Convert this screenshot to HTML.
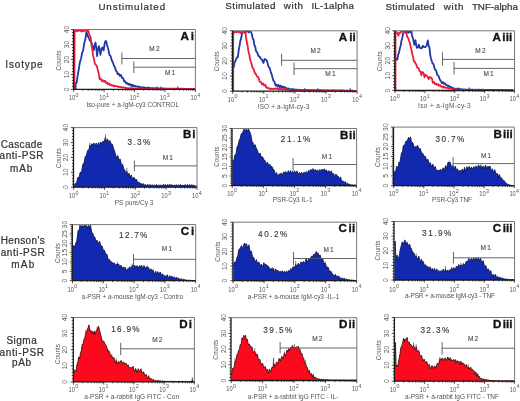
<!DOCTYPE html>
<html><head><meta charset="utf-8"><style>
html,body{margin:0;padding:0;background:#fff;}
body{width:520px;height:401px;overflow:hidden;}
svg{display:block;filter:blur(0.3px);font-family:"Liberation Sans", sans-serif;}
</style></head><body>
<svg width="520" height="401" viewBox="0 0 520 401">
<rect width="520" height="401" fill="#fff"/>
<text x="98.4" y="9.6" font-size="9.8" fill="#333" font-weight="normal" text-anchor="start" textLength="66.7" lengthAdjust="spacing" stroke="#333" stroke-width="0.22">Unstimulated</text>
<text x="225.3" y="8.9" font-size="9.8" fill="#333" font-weight="normal" text-anchor="start" textLength="50.1" lengthAdjust="spacing" stroke="#333" stroke-width="0.22">Stimulated</text>
<text x="283.7" y="8.9" font-size="9.8" fill="#333" font-weight="normal" text-anchor="start" textLength="19.3" lengthAdjust="spacing" stroke="#333" stroke-width="0.22">with</text>
<text x="311.4" y="8.9" font-size="9.8" fill="#333" font-weight="normal" text-anchor="start" textLength="42.5" lengthAdjust="spacing" stroke="#333" stroke-width="0.22">IL-1alpha</text>
<text x="385.4" y="10.3" font-size="9.8" fill="#333" font-weight="normal" text-anchor="start" textLength="49.4" lengthAdjust="spacing" stroke="#333" stroke-width="0.22">Stimulated</text>
<text x="443.7" y="10.3" font-size="9.8" fill="#333" font-weight="normal" text-anchor="start" textLength="19.7" lengthAdjust="spacing" stroke="#333" stroke-width="0.22">with</text>
<text x="471.9" y="10.3" font-size="9.8" fill="#333" font-weight="normal" text-anchor="start" textLength="46.0" lengthAdjust="spacing" stroke="#333" stroke-width="0.22">TNF-alpha</text>
<text x="5.3" y="67.9" font-size="10.0" fill="#333" font-weight="normal" text-anchor="start" textLength="37.3" lengthAdjust="spacing" stroke="#333" stroke-width="0.22">Isotype</text>
<text x="0.7" y="147.5" font-size="10.0" fill="#333" font-weight="normal" text-anchor="start" textLength="41.6" lengthAdjust="spacing" stroke="#333" stroke-width="0.22">Cascade</text>
<text x="-0.5" y="159.3" font-size="10.0" fill="#333" font-weight="normal" text-anchor="start" textLength="44.0" lengthAdjust="spacing" stroke="#333" stroke-width="0.22">anti-PSR</text>
<text x="10.1" y="171.6" font-size="10.0" fill="#333" font-weight="normal" text-anchor="start" textLength="22.2" lengthAdjust="spacing" stroke="#333" stroke-width="0.22">mAb</text>
<text x="0.7" y="244.0" font-size="10.0" fill="#333" font-weight="normal" text-anchor="start" textLength="44.1" lengthAdjust="spacing" stroke="#333" stroke-width="0.22">Henson's</text>
<text x="0.7" y="256.0" font-size="10.0" fill="#333" font-weight="normal" text-anchor="start" textLength="44.1" lengthAdjust="spacing" stroke="#333" stroke-width="0.22">anti-PSR</text>
<text x="11.3" y="268.2" font-size="10.0" fill="#333" font-weight="normal" text-anchor="start" textLength="22.9" lengthAdjust="spacing" stroke="#333" stroke-width="0.22">mAb</text>
<text x="6.4" y="343.5" font-size="10.0" fill="#333" font-weight="normal" text-anchor="start" textLength="30.3" lengthAdjust="spacing" stroke="#333" stroke-width="0.22">Sigma</text>
<text x="-0.5" y="355.6" font-size="10.0" fill="#333" font-weight="normal" text-anchor="start" textLength="44.6" lengthAdjust="spacing" stroke="#333" stroke-width="0.22">anti-PSR</text>
<text x="12.0" y="366.4" font-size="10.0" fill="#333" font-weight="normal" text-anchor="start" textLength="19.0" lengthAdjust="spacing" stroke="#333" stroke-width="0.22">pAb</text>
<path d="M70.9 89.4H73.7 M71.9 86.4H73.7 M71.9 83.4H73.7 M71.9 80.4H73.7 M71.9 77.4H73.7 M70.9 74.4H73.7 M71.9 71.4H73.7 M71.9 68.4H73.7 M71.9 65.4H73.7 M71.9 62.4H73.7 M70.9 59.5H73.7 M71.9 56.5H73.7 M71.9 53.5H73.7 M71.9 50.5H73.7 M71.9 47.5H73.7 M70.9 44.5H73.7 M71.9 41.5H73.7 M71.9 38.5H73.7 M71.9 35.5H73.7 M71.9 32.5H73.7 M70.9 29.5H73.7 M73.7 89.4V92.0 M82.9 89.4V90.8 M88.2 89.4V90.8 M92.0 89.4V90.8 M95.0 89.4V90.8 M97.4 89.4V90.8 M99.4 89.4V90.8 M101.2 89.4V90.8 M102.7 89.4V90.8 M104.1 89.4V92.0 M113.3 89.4V90.8 M118.6 89.4V90.8 M122.4 89.4V90.8 M125.4 89.4V90.8 M127.8 89.4V90.8 M129.8 89.4V90.8 M131.6 89.4V90.8 M133.2 89.4V90.8 M134.6 89.4V92.0 M143.7 89.4V90.8 M149.1 89.4V90.8 M152.9 89.4V90.8 M155.8 89.4V90.8 M158.2 89.4V90.8 M160.3 89.4V90.8 M162.0 89.4V90.8 M163.6 89.4V90.8 M165.0 89.4V92.0 M174.1 89.4V90.8 M179.5 89.4V90.8 M183.3 89.4V90.8 M186.2 89.4V90.8 M188.7 89.4V90.8 M190.7 89.4V90.8 M192.5 89.4V90.8 M194.0 89.4V90.8 M195.4 89.4V92.0" stroke="#222" stroke-width="0.8" fill="none"/>
<polyline points="75.5,89.0 75.8,83.0 76.6,82.9 77.7,75.3 78.8,69.1 79.9,62.1 81.0,58.7 82.1,53.3 83.2,50.1 84.3,43.0 85.3,39.6 86.4,31.8 87.7,36.0 88.9,38.0 90.0,40.8 91.1,41.6 92.2,45.1 93.0,46.5 93.8,50.2 94.7,45.0 95.5,42.5 96.3,47.8 97.1,56.2 97.9,49.7 98.8,46.2 99.6,48.5 100.4,54.9 101.2,50.6 102.1,47.8 102.9,47.5 103.7,50.4 104.6,43.8 105.4,41.1 106.2,41.2 107.0,45.0 108.2,49.0 109.5,55.1 110.6,55.9 111.7,60.3 112.8,62.2 113.9,65.5 115.0,67.6 116.1,70.9 116.9,71.7 117.7,74.1 118.8,73.7 119.9,76.1 121.0,75.0 122.1,78.0 123.2,78.2 124.3,81.6 125.3,81.5 126.3,83.5 127.2,83.1 128.2,84.5 129.2,83.6 130.2,85.4 131.1,84.5 132.1,86.2 133.1,84.9 134.0,86.2 135.0,85.9 136.0,86.4 137.0,86.3 138.0,86.9 139.0,86.7 140.0,87.1 141.0,87.1 142.0,87.7 143.0,87.4 144.0,87.9 145.0,87.6 146.0,88.1 147.0,87.9 148.0,88.1 149.0,87.8 150.0,88.1 151.0,88.0 152.0,88.3 153.0,88.1 154.0,88.5 155.0,88.2 156.0,88.4 157.0,88.3 158.0,88.5 159.0,88.3 160.0,88.7 161.0,88.4 162.0,88.6 163.0,88.5 164.0,88.6 165.0,88.5 166.0,88.8 167.0,88.5 168.0,88.8 169.0,88.6 170.0,88.7 171.0,88.6 172.0,88.8 173.0,88.6 174.0,88.7 175.0,88.6 176.0,88.9 177.0,88.7 178.0,88.8 179.0,88.7 180.0,88.9 181.0,88.7 182.0,88.9 183.0,88.7 184.0,88.9 185.0,88.8 186.0,88.9 187.0,88.9 188.0,89.0 189.0,88.9 190.0,89.0 191.0,88.9 192.0,89.0 193.0,89.0 194.0,89.0 195.0,89.0" fill="none" stroke="#1f38a8" stroke-width="1.8" stroke-linejoin="round"/>
<polyline points="74.3,89.4 74.6,30.1 75.6,31.2 76.5,30.1 77.5,31.3 78.5,30.1 79.4,30.6 80.4,30.1 81.3,31.5 82.3,30.1 83.3,31.3 84.2,30.2 85.2,30.9 86.2,30.1 87.1,31.3 88.1,30.1 89.3,35.0 90.6,37.0 91.4,44.1 92.2,48.5 93.0,55.2 93.8,58.0 94.7,63.2 95.5,64.7 96.3,65.1 97.2,67.4 98.0,70.8 98.8,73.7 99.6,79.1 100.7,78.5 101.8,81.2 102.9,80.1 103.9,81.8 104.9,80.7 105.8,82.8 106.8,82.4 107.8,84.2 108.8,83.3 109.8,85.1 110.8,84.5 111.8,85.7 112.8,85.2 113.9,86.4 115.0,85.7 116.0,86.3 117.1,86.2 118.2,87.0 119.3,86.6 120.3,87.3 121.4,87.0 122.4,87.5 123.4,87.3 124.5,87.8 125.5,87.7 126.6,88.1 127.6,88.2 128.6,88.4 129.7,88.2 130.7,88.4 131.7,88.2 132.8,88.4 133.8,88.4 134.8,88.5 135.9,88.4 136.9,88.6 137.9,88.5 139.0,88.7 140.0,88.5 141.0,88.7 142.0,88.5 143.0,88.8 144.0,88.6 145.0,88.8 146.0,88.6 147.0,88.8 148.0,88.6 149.0,88.8 150.0,88.7 151.0,88.8 152.0,88.7 153.0,88.8 154.0,88.6 155.0,88.8 156.0,88.7 157.0,88.8 158.0,88.8 159.0,88.9 160.0,88.8 161.0,88.9 162.0,88.8 163.0,88.9 164.0,88.8 165.0,88.9 166.0,88.8 167.0,88.9 168.0,88.8 169.0,88.9 170.0,88.8 171.0,89.0 172.0,88.8 173.0,89.0 174.0,88.8 175.0,88.9 176.0,88.8 177.0,89.0 178.0,88.9 179.0,89.0 180.0,88.9 181.0,89.0 182.0,88.9 183.0,89.0 184.0,88.9 185.0,89.0 186.0,88.9 187.0,89.0 188.0,88.9 189.0,89.1 190.0,88.9 191.0,89.1 192.0,88.9 193.0,89.0 194.0,88.9 195.0,89.1" fill="none" stroke="#ec1c3c" stroke-width="1.8" stroke-linejoin="round"/>
<path d="M73.7 29.5H195.4V89.4" stroke="#777" stroke-width="1" fill="none"/>
<path d="M73.5 29.5V89.4H195.4" stroke="#1a1a1a" stroke-width="1.3" fill="none"/>
<path d="M144 89.0V86.6M148 89.0V86.6M157 89.0V86.6M161 89.0V86.6M177.8 89.0V86.6" stroke="#1f38a8" stroke-width="1.1" fill="none"/>
<path d="M121.9 52.3V64.4M121.9 58.5H195.4" stroke="#555" stroke-width="0.9" fill="none"/>
<text x="149.3" y="51.2" font-size="6.5" fill="#555" font-weight="normal" text-anchor="start" textLength="10.2" lengthAdjust="spacing" stroke="#555" stroke-width="0.15">M2</text>
<path d="M133.8 61.4V73.0M133.8 67.2H195.4" stroke="#555" stroke-width="0.9" fill="none"/>
<text x="164.9" y="75.1" font-size="6.5" fill="#555" font-weight="normal" text-anchor="start" textLength="10.2" lengthAdjust="spacing" stroke="#555" stroke-width="0.15">M1</text>
<text x="180.41" y="39.90" font-size="11.6" font-weight="bold" fill="#111" stroke="#111" stroke-width="0.35">A</text>
<text x="190.71" y="39.90" font-size="11.6" font-weight="bold" fill="#111" stroke="#111" stroke-width="0.3" letter-spacing="0.1">i</text>
<text transform="translate(69.0 89.4) rotate(-90)" font-size="6.8" fill="#555" text-anchor="middle">0</text>
<text transform="translate(69.0 74.4) rotate(-90)" font-size="6.8" fill="#555" text-anchor="middle">10</text>
<text transform="translate(69.0 59.5) rotate(-90)" font-size="6.8" fill="#555" text-anchor="middle">20</text>
<text transform="translate(69.0 44.5) rotate(-90)" font-size="6.8" fill="#555" text-anchor="middle">30</text>
<text transform="translate(69.0 29.5) rotate(-90)" font-size="6.8" fill="#555" text-anchor="middle">40</text>
<text transform="translate(60.6 60.4) rotate(-90)" font-size="6.5" fill="#555" text-anchor="middle" textLength="20" lengthAdjust="spacingAndGlyphs">Counts</text>
<text x="68.8" y="100.3" font-size="6.4" fill="#555" textLength="6.4" lengthAdjust="spacingAndGlyphs">10</text>
<text x="75.5" y="96.5" font-size="5.4" fill="#555">0</text>
<text x="99.2" y="100.3" font-size="6.4" fill="#555" textLength="6.4" lengthAdjust="spacingAndGlyphs">10</text>
<text x="105.9" y="96.5" font-size="5.4" fill="#555">1</text>
<text x="129.7" y="100.3" font-size="6.4" fill="#555" textLength="6.4" lengthAdjust="spacingAndGlyphs">10</text>
<text x="136.4" y="96.5" font-size="5.4" fill="#555">2</text>
<text x="160.1" y="100.3" font-size="6.4" fill="#555" textLength="6.4" lengthAdjust="spacingAndGlyphs">10</text>
<text x="166.8" y="96.5" font-size="5.4" fill="#555">3</text>
<text x="190.5" y="100.3" font-size="6.4" fill="#555" textLength="6.4" lengthAdjust="spacingAndGlyphs">10</text>
<text x="197.2" y="96.5" font-size="5.4" fill="#555">4</text>
<text x="86.4" y="106.7" font-size="6.5" fill="#555" font-weight="normal" text-anchor="start" textLength="92.6" lengthAdjust="spacing">Iso-pure + a-IgM-cy3  CONTROL</text>
<path d="M229.9 91.2H232.7 M230.9 88.2H232.7 M230.9 85.2H232.7 M230.9 82.1H232.7 M230.9 79.1H232.7 M229.9 76.1H232.7 M230.9 73.1H232.7 M230.9 70.1H232.7 M230.9 67.0H232.7 M230.9 64.0H232.7 M229.9 61.0H232.7 M230.9 58.0H232.7 M230.9 55.0H232.7 M230.9 51.9H232.7 M230.9 48.9H232.7 M229.9 45.9H232.7 M230.9 42.9H232.7 M230.9 39.9H232.7 M230.9 36.8H232.7 M230.9 33.8H232.7 M229.9 30.8H232.7 M232.7 91.2V93.8 M242.1 91.2V92.6 M247.5 91.2V92.6 M251.4 91.2V92.6 M254.4 91.2V92.6 M256.9 91.2V92.6 M259.0 91.2V92.6 M260.8 91.2V92.6 M262.4 91.2V92.6 M263.8 91.2V93.8 M273.2 91.2V92.6 M278.6 91.2V92.6 M282.5 91.2V92.6 M285.5 91.2V92.6 M288.0 91.2V92.6 M290.1 91.2V92.6 M291.9 91.2V92.6 M293.5 91.2V92.6 M294.9 91.2V93.8 M304.3 91.2V92.6 M309.7 91.2V92.6 M313.6 91.2V92.6 M316.6 91.2V92.6 M319.1 91.2V92.6 M321.2 91.2V92.6 M323.0 91.2V92.6 M324.6 91.2V92.6 M326.0 91.2V93.8 M335.4 91.2V92.6 M340.8 91.2V92.6 M344.7 91.2V92.6 M347.7 91.2V92.6 M350.2 91.2V92.6 M352.3 91.2V92.6 M354.1 91.2V92.6 M355.7 91.2V92.6 M357.1 91.2V93.8" stroke="#222" stroke-width="0.8" fill="none"/>
<polyline points="233.8,67.5 234.6,62.7 235.4,61.2 236.7,57.6 237.9,57.1 238.7,50.1 239.5,46.1 240.3,40.9 241.2,38.1 242.0,33.5 242.8,32.4 243.8,31.4 244.9,32.9 245.9,31.4 246.9,31.7 247.9,31.4 248.9,32.3 250.0,31.4 251.0,32.0 251.8,34.0 252.7,38.4 253.5,39.4 254.3,44.9 255.2,46.5 256.0,50.9 257.2,52.5 258.4,55.9 259.6,56.5 260.9,58.9 262.1,59.8 263.4,62.9 264.6,59.0 265.8,59.7 267.1,61.1 268.3,66.4 269.6,67.8 270.8,72.1 272.0,75.4 273.2,80.3 274.4,81.9 275.7,85.6 276.7,84.6 277.7,86.7 278.6,85.0 279.6,87.2 280.6,85.6 281.6,87.5 282.6,86.4 283.6,87.7 284.6,87.0 285.6,88.4 286.6,88.0 287.6,89.1 288.5,88.4 289.5,89.3 290.5,89.1 291.4,89.5 292.4,89.2 293.4,89.9 294.3,89.4 295.2,89.8 296.2,89.6 297.1,89.9 298.1,89.7 299.1,90.2 300.0,89.9 301.0,90.2 302.0,90.0 303.0,90.3 304.0,90.0 305.0,90.3 306.0,90.0 307.0,90.3 308.0,89.9 309.0,90.4 310.0,90.1 311.0,90.4 312.0,90.1 313.0,90.3 314.0,90.1 315.0,90.5 316.0,90.2 317.0,90.4 318.0,90.1 319.0,90.4 320.0,90.2 321.0,90.4 322.0,90.3 323.0,90.5 324.0,90.3 325.0,90.5 326.0,90.4 327.0,90.5 328.0,90.4 329.0,90.6 330.0,90.4 331.0,90.6 332.0,90.4 333.0,90.5 334.0,90.4 335.0,90.6 336.0,90.5 337.0,90.6 338.0,90.5 339.0,90.6 340.0,90.5 341.0,90.7 342.0,90.5 343.0,90.7 344.0,90.5 345.0,90.8 346.0,90.6 347.0,90.7 348.0,90.6 349.0,90.8 350.0,90.7 351.0,90.8 352.0,90.7 353.0,90.8 354.0,90.8 355.0,90.9 356.0,90.8" fill="none" stroke="#1f38a8" stroke-width="1.8" stroke-linejoin="round"/>
<polyline points="233.2,91.1 233.2,31.4 234.2,32.7 235.2,31.4 236.2,32.2 237.2,31.4 238.2,32.1 239.2,31.4 240.3,33.0 241.3,31.4 242.3,32.8 243.3,31.4 244.3,32.2 245.3,31.4 246.4,40.0 247.7,46.3 248.6,52.2 249.4,55.0 250.2,60.2 251.0,61.7 252.2,66.9 253.5,68.9 254.8,72.9 256.0,74.4 257.2,76.7 258.4,77.1 259.6,81.6 260.9,81.9 262.0,84.5 263.1,83.4 264.2,85.5 265.3,84.9 266.4,87.8 267.5,87.5 268.6,88.7 269.7,88.3 270.8,89.3 271.9,88.6 273.0,89.0 274.1,88.7 275.1,89.0 276.2,88.3 277.3,89.0 278.3,88.8 279.4,89.4 280.4,88.9 281.5,89.5 282.5,89.0 283.5,89.7 284.6,89.2 285.6,89.8 286.7,89.4 287.7,89.9 288.8,89.8 289.8,90.2 290.9,90.0 291.9,90.3 293.0,90.2 294.0,90.5 295.0,90.3 296.0,90.5 297.0,90.3 298.0,90.4 299.0,90.2 300.0,90.6 301.0,90.3 302.0,90.5 303.0,90.3 304.0,90.6 305.0,90.4 306.0,90.5 307.0,90.4 308.0,90.6 309.0,90.5 310.0,90.6 311.0,90.5 312.0,90.7 313.0,90.5 314.0,90.6 315.0,90.5 316.0,90.6 317.0,90.5 318.0,90.7 319.0,90.6 320.0,90.7 321.0,90.5 322.0,90.7 323.0,90.5 324.0,90.7 325.0,90.6 326.0,90.7 327.0,90.6 328.0,90.7 329.0,90.6 330.0,90.7 331.0,90.6 332.0,90.7 333.0,90.6 334.0,90.7 335.0,90.6 336.0,90.7 337.0,90.6 338.0,90.8 339.0,90.6 340.0,90.8 341.0,90.7 342.0,90.8 343.0,90.7 344.0,90.8 345.0,90.7 346.0,90.8 347.0,90.7 348.0,90.8 349.0,90.8 350.0,90.9 351.0,90.7 352.0,90.9 353.0,90.7 354.0,90.8 355.0,90.8 356.0,90.9" fill="none" stroke="#ec1c3c" stroke-width="1.8" stroke-linejoin="round"/>
<path d="M232.7 30.8H357.1V91.2" stroke="#777" stroke-width="1" fill="none"/>
<path d="M232.5 30.8V91.2H357.1" stroke="#1a1a1a" stroke-width="1.3" fill="none"/>
<path d="M292.6 90.8V88.2M304.8 90.8V88.2M317.9 90.8V88.2M350.2 90.8V88.2" stroke="#1f38a8" stroke-width="1.1" fill="none"/>
<path d="M281.6 53.7V65.8M281.6 60.3H357.1" stroke="#555" stroke-width="0.9" fill="none"/>
<text x="310.5" y="53.1" font-size="6.5" fill="#555" font-weight="normal" text-anchor="start" textLength="10.2" lengthAdjust="spacing" stroke="#555" stroke-width="0.15">M2</text>
<path d="M294.0 62.5V75.0M294.0 68.7H357.1" stroke="#555" stroke-width="0.9" fill="none"/>
<text x="325.3" y="76.3" font-size="6.5" fill="#555" font-weight="normal" text-anchor="start" textLength="10.2" lengthAdjust="spacing" stroke="#555" stroke-width="0.15">M1</text>
<text x="338.71" y="40.70" font-size="11.6" font-weight="bold" fill="#111" stroke="#111" stroke-width="0.35">A</text>
<text x="349.19" y="40.70" font-size="11.6" font-weight="bold" fill="#111" stroke="#111" stroke-width="0.3" letter-spacing="0.1">ii</text>
<text transform="translate(227.0 91.2) rotate(-90)" font-size="6.8" fill="#555" text-anchor="middle">0</text>
<text transform="translate(227.0 76.1) rotate(-90)" font-size="6.8" fill="#555" text-anchor="middle">10</text>
<text transform="translate(227.0 61.0) rotate(-90)" font-size="6.8" fill="#555" text-anchor="middle">20</text>
<text transform="translate(227.0 45.9) rotate(-90)" font-size="6.8" fill="#555" text-anchor="middle">30</text>
<text transform="translate(227.0 30.8) rotate(-90)" font-size="6.8" fill="#555" text-anchor="middle">40</text>
<text transform="translate(219.2 61.3) rotate(-90)" font-size="6.5" fill="#555" text-anchor="middle" textLength="20" lengthAdjust="spacingAndGlyphs">Counts</text>
<text x="227.8" y="102.2" font-size="6.4" fill="#555" textLength="6.4" lengthAdjust="spacingAndGlyphs">10</text>
<text x="234.5" y="98.4" font-size="5.4" fill="#555">0</text>
<text x="258.9" y="102.2" font-size="6.4" fill="#555" textLength="6.4" lengthAdjust="spacingAndGlyphs">10</text>
<text x="265.6" y="98.4" font-size="5.4" fill="#555">1</text>
<text x="290.0" y="102.2" font-size="6.4" fill="#555" textLength="6.4" lengthAdjust="spacingAndGlyphs">10</text>
<text x="296.7" y="98.4" font-size="5.4" fill="#555">2</text>
<text x="321.1" y="102.2" font-size="6.4" fill="#555" textLength="6.4" lengthAdjust="spacingAndGlyphs">10</text>
<text x="327.8" y="98.4" font-size="5.4" fill="#555">3</text>
<text x="352.2" y="102.2" font-size="6.4" fill="#555" textLength="6.4" lengthAdjust="spacingAndGlyphs">10</text>
<text x="358.9" y="98.4" font-size="5.4" fill="#555">4</text>
<text x="257.7" y="108.8" font-size="6.5" fill="#555" font-weight="normal" text-anchor="start" textLength="51.7" lengthAdjust="spacing">ISO + a-IgM-cy-3</text>
<path d="M392.2 90.5H395.0 M393.2 87.5H395.0 M393.2 84.5H395.0 M393.2 81.5H395.0 M393.2 78.6H395.0 M392.2 75.6H395.0 M393.2 72.6H395.0 M393.2 69.6H395.0 M393.2 66.6H395.0 M393.2 63.6H395.0 M392.2 60.6H395.0 M393.2 57.7H395.0 M393.2 54.7H395.0 M393.2 51.7H395.0 M393.2 48.7H395.0 M392.2 45.7H395.0 M393.2 42.7H395.0 M393.2 39.8H395.0 M393.2 36.8H395.0 M393.2 33.8H395.0 M392.2 30.8H395.0 M395.0 90.5V93.1 M404.0 90.5V91.9 M409.3 90.5V91.9 M413.0 90.5V91.9 M415.9 90.5V91.9 M418.2 90.5V91.9 M420.2 90.5V91.9 M422.0 90.5V91.9 M423.5 90.5V91.9 M424.9 90.5V93.1 M433.9 90.5V91.9 M439.1 90.5V91.9 M442.9 90.5V91.9 M445.8 90.5V91.9 M448.1 90.5V91.9 M450.1 90.5V91.9 M451.9 90.5V91.9 M453.4 90.5V91.9 M454.8 90.5V93.1 M463.7 90.5V91.9 M469.0 90.5V91.9 M472.7 90.5V91.9 M475.6 90.5V91.9 M478.0 90.5V91.9 M480.0 90.5V91.9 M481.7 90.5V91.9 M483.3 90.5V91.9 M484.6 90.5V93.1 M493.6 90.5V91.9 M498.9 90.5V91.9 M502.6 90.5V91.9 M505.5 90.5V91.9 M507.9 90.5V91.9 M509.9 90.5V91.9 M511.6 90.5V91.9 M513.1 90.5V91.9 M514.5 90.5V93.1" stroke="#222" stroke-width="0.8" fill="none"/>
<polyline points="395.8,60.3 396.6,58.6 397.4,59.5 398.2,54.5 399.0,52.6 399.9,48.3 400.7,45.5 401.5,40.5 402.3,38.0 403.1,33.4 404.0,32.4 405.1,31.4 406.1,32.9 407.2,31.4 408.2,32.7 409.3,31.4 410.3,32.3 411.4,31.4 412.2,36.3 413.0,38.4 414.3,44.7 415.5,40.1 416.3,46.1 417.1,47.9 418.0,47.3 418.8,44.6 419.6,47.1 420.4,48.2 421.6,48.3 422.9,45.7 424.1,47.2 425.4,47.0 426.6,45.7 427.8,40.4 428.6,45.2 429.5,47.8 430.3,55.5 431.1,58.9 432.4,63.1 433.6,64.4 434.9,69.4 436.1,70.6 437.3,75.0 438.5,75.7 439.8,79.5 441.0,81.3 442.0,83.1 443.0,82.1 443.9,83.8 444.9,83.3 445.9,84.9 446.9,85.0 447.9,86.1 448.9,85.6 449.9,87.3 450.9,86.9 451.9,87.7 452.9,87.8 454.0,88.8 455.0,88.6 456.0,88.9 457.0,88.7 458.0,89.3 459.0,88.8 460.0,89.3 461.0,89.2 462.0,89.5 463.0,89.4 464.0,89.6 465.0,89.5 466.0,89.7 467.0,89.6 468.0,89.8 469.0,89.6 470.0,89.7 471.0,89.6 472.0,89.7 473.0,89.6 474.0,89.9 475.0,89.7 476.0,89.8 477.0,89.7 478.0,89.9 479.0,89.7 480.0,89.9 481.0,89.7 482.0,89.9 483.0,89.7 484.0,90.0 485.0,89.8 486.0,90.0 487.0,89.8 488.0,90.0 489.0,89.9 490.0,90.0 491.0,89.9 492.0,90.0 493.0,89.9 494.0,90.0 495.0,89.9 496.0,90.0 497.0,90.0 498.0,90.1 499.0,90.0 500.0,90.1 501.0,90.0 502.0,90.2 503.0,90.0 504.0,90.1 505.0,90.1 506.0,90.2 507.0,90.1 508.0,90.2 509.0,90.1 510.0,90.2 511.0,90.1 512.0,90.2 513.0,90.2" fill="none" stroke="#1f38a8" stroke-width="1.8" stroke-linejoin="round"/>
<polyline points="395.5,90.3 395.5,31.4 396.5,32.1 397.4,33.2 398.4,35.7 399.2,32.8 400.0,33.0 400.9,31.4 401.9,31.8 402.8,31.4 403.7,32.2 404.7,31.4 405.6,32.8 406.5,33.4 407.3,37.2 408.1,37.8 408.9,40.5 409.8,42.6 410.6,46.5 411.4,49.3 412.2,54.0 413.0,56.3 413.8,61.1 414.6,61.4 415.5,63.6 416.3,64.2 417.1,67.6 418.4,67.8 419.6,71.3 420.5,71.4 421.3,75.3 422.1,72.2 422.9,72.2 423.7,73.6 424.5,77.3 425.4,74.8 426.2,75.5 427.4,76.2 428.7,79.2 429.9,77.0 431.1,77.6 432.0,78.7 432.8,82.8 433.9,81.9 435.0,84.1 436.1,83.6 437.1,84.8 438.1,84.2 439.0,85.9 440.0,85.0 441.0,86.5 441.9,86.4 442.9,87.7 443.8,86.5 444.8,87.5 445.7,87.4 446.7,88.0 447.6,87.7 448.7,88.6 449.7,88.1 450.8,88.7 451.8,88.7 452.9,89.4 453.9,89.2 455.0,89.6 456.0,89.4 457.0,89.8 458.0,89.5 459.0,89.8 460.0,89.6 461.0,89.8 462.0,89.6 463.0,89.9 464.0,89.8 465.0,90.0 466.0,89.8 467.0,90.0 468.0,89.9 469.0,90.1 470.0,90.0 471.0,90.0 472.0,89.9 473.0,90.1 474.0,90.0 475.0,90.1 476.0,90.0 477.0,90.1 478.0,90.0 479.0,90.1 480.0,90.0 481.0,90.1 482.0,90.0 483.0,90.1 484.0,90.0 485.0,90.1 486.0,90.1 487.0,90.2 488.0,90.1 489.0,90.1 490.0,90.1 491.0,90.2 492.0,90.1 493.0,90.1 494.0,90.1 495.0,90.2 496.0,90.1 497.0,90.2 498.0,90.1 499.0,90.2 500.0,90.1 501.0,90.2 502.0,90.1 503.0,90.2 504.0,90.1 505.0,90.2 506.0,90.1 507.0,90.3 508.0,90.2 509.0,90.3 510.0,90.2 511.0,90.2 512.0,90.2 513.0,90.3" fill="none" stroke="#ec1c3c" stroke-width="1.8" stroke-linejoin="round"/>
<path d="M395.0 30.8H514.5V90.5" stroke="#777" stroke-width="1" fill="none"/>
<path d="M394.8 30.8V90.5H514.5" stroke="#1a1a1a" stroke-width="1.3" fill="none"/>
<path d="M458.7 90.1V87.6M469.2 90.1V87.6" stroke="#1f38a8" stroke-width="1.1" fill="none"/>
<path d="M442.5 52.3V65.5M442.5 59.4H514.5" stroke="#555" stroke-width="0.9" fill="none"/>
<text x="475.3" y="52.5" font-size="6.5" fill="#555" font-weight="normal" text-anchor="start" textLength="10.2" lengthAdjust="spacing" stroke="#555" stroke-width="0.15">M2</text>
<path d="M454.0 62.0V74.5M454.0 68.4H514.5" stroke="#555" stroke-width="0.9" fill="none"/>
<text x="483.5" y="76.3" font-size="6.5" fill="#555" font-weight="normal" text-anchor="start" textLength="10.2" lengthAdjust="spacing" stroke="#555" stroke-width="0.15">M1</text>
<text x="492.61" y="41.00" font-size="11.6" font-weight="bold" fill="#111" stroke="#111" stroke-width="0.35">A</text>
<text x="502.37" y="41.00" font-size="11.6" font-weight="bold" fill="#111" stroke="#111" stroke-width="0.3" letter-spacing="0.1">iii</text>
<text transform="translate(390.1 90.5) rotate(-90)" font-size="6.8" fill="#555" text-anchor="middle">0</text>
<text transform="translate(390.1 75.6) rotate(-90)" font-size="6.8" fill="#555" text-anchor="middle">10</text>
<text transform="translate(390.1 60.6) rotate(-90)" font-size="6.8" fill="#555" text-anchor="middle">20</text>
<text transform="translate(390.1 45.7) rotate(-90)" font-size="6.8" fill="#555" text-anchor="middle">30</text>
<text transform="translate(390.1 30.8) rotate(-90)" font-size="6.8" fill="#555" text-anchor="middle">40</text>
<text transform="translate(381.5 61.2) rotate(-90)" font-size="6.5" fill="#555" text-anchor="middle" textLength="20" lengthAdjust="spacingAndGlyphs">Counts</text>
<text x="390.1" y="101.4" font-size="6.4" fill="#555" textLength="6.4" lengthAdjust="spacingAndGlyphs">10</text>
<text x="396.8" y="97.6" font-size="5.4" fill="#555">0</text>
<text x="420.0" y="101.4" font-size="6.4" fill="#555" textLength="6.4" lengthAdjust="spacingAndGlyphs">10</text>
<text x="426.7" y="97.6" font-size="5.4" fill="#555">1</text>
<text x="449.9" y="101.4" font-size="6.4" fill="#555" textLength="6.4" lengthAdjust="spacingAndGlyphs">10</text>
<text x="456.6" y="97.6" font-size="5.4" fill="#555">2</text>
<text x="479.7" y="101.4" font-size="6.4" fill="#555" textLength="6.4" lengthAdjust="spacingAndGlyphs">10</text>
<text x="486.4" y="97.6" font-size="5.4" fill="#555">3</text>
<text x="509.6" y="101.4" font-size="6.4" fill="#555" textLength="6.4" lengthAdjust="spacingAndGlyphs">10</text>
<text x="516.3" y="97.6" font-size="5.4" fill="#555">4</text>
<text x="418.0" y="108.3" font-size="6.5" fill="#555" font-weight="normal" text-anchor="start" textLength="52.7" lengthAdjust="spacing">Iso + a-IgM-cy-3</text>
<path d="M70.9 187.2H73.7 M71.9 184.2H73.7 M71.9 181.2H73.7 M71.9 178.3H73.7 M71.9 175.3H73.7 M70.9 172.3H73.7 M71.9 169.3H73.7 M71.9 166.3H73.7 M71.9 163.4H73.7 M71.9 160.4H73.7 M70.9 157.4H73.7 M71.9 154.4H73.7 M71.9 151.4H73.7 M71.9 148.5H73.7 M71.9 145.5H73.7 M70.9 142.5H73.7 M71.9 139.5H73.7 M71.9 136.5H73.7 M71.9 133.6H73.7 M71.9 130.6H73.7 M70.9 127.6H73.7 M73.7 187.2V189.8 M83.0 187.2V188.6 M88.4 187.2V188.6 M92.3 187.2V188.6 M95.2 187.2V188.6 M97.7 187.2V188.6 M99.8 187.2V188.6 M101.5 187.2V188.6 M103.1 187.2V188.6 M104.5 187.2V189.8 M113.8 187.2V188.6 M119.2 187.2V188.6 M123.1 187.2V188.6 M126.1 187.2V188.6 M128.5 187.2V188.6 M130.6 187.2V188.6 M132.4 187.2V188.6 M133.9 187.2V188.6 M135.3 187.2V189.8 M144.6 187.2V188.6 M150.1 187.2V188.6 M153.9 187.2V188.6 M156.9 187.2V188.6 M159.3 187.2V188.6 M161.4 187.2V188.6 M163.2 187.2V188.6 M164.8 187.2V188.6 M166.2 187.2V189.8 M175.5 187.2V188.6 M180.9 187.2V188.6 M184.7 187.2V188.6 M187.7 187.2V188.6 M190.2 187.2V188.6 M192.2 187.2V188.6 M194.0 187.2V188.6 M195.6 187.2V188.6 M197.0 187.2V189.8" stroke="#222" stroke-width="0.8" fill="none"/>
<polygon points="74.1,187.2 74.1,185.9 75.3,183.4 76.6,182.9 77.8,177.5 79.0,177.6 80.2,172.3 81.5,172.3 82.8,164.5 84.0,162.9 85.2,156.7 86.4,155.3 87.7,150.2 88.9,149.9 89.8,145.2 90.6,146.3 91.8,143.7 93.0,145.0 94.1,142.9 95.2,145.9 96.3,143.0 97.4,146.6 98.5,142.6 99.6,144.4 100.7,141.9 101.8,144.0 102.9,141.2 104.2,141.8 105.4,137.4 106.5,141.8 107.6,138.9 108.7,142.8 109.9,140.5 111.1,144.0 112.3,144.0 113.6,148.6 115.2,153.1 116.5,158.2 117.7,155.5 119.0,159.9 120.2,159.1 121.4,164.4 122.6,164.4 123.7,168.6 124.8,169.8 125.9,174.5 126.9,171.3 128.0,176.1 129.0,173.1 130.0,177.3 131.3,174.9 132.6,179.4 133.9,177.1 135.2,179.6 136.6,179.5 137.9,183.7 139.0,181.9 140.1,184.1 141.1,183.3 142.2,185.0 143.3,183.5 144.4,185.3 145.5,184.4 146.7,185.5 147.8,184.4 148.9,185.5 150.0,184.4 151.1,185.6 152.2,184.9 153.3,185.4 154.4,185.0 155.5,185.8 156.6,184.4 157.7,186.0 158.8,185.0 159.9,185.5 161.0,184.9 162.1,185.9 163.2,184.5 164.3,185.3 165.4,184.6 166.5,186.1 167.6,184.4 168.7,185.3 169.8,184.6 170.9,185.3 171.9,184.6 173.0,186.0 174.1,185.0 175.2,185.8 176.3,184.6 177.4,186.0 178.5,184.7 179.6,185.6 180.7,184.6 181.8,186.0 182.9,184.9 184.0,186.1 185.1,184.6 186.2,185.8 187.3,184.6 188.4,185.6 189.5,184.5 190.6,185.9 191.7,184.5 192.8,185.5 194.0,185.3 195.3,186.2 196.5,185.7 196.5,187.2" fill="#1129ae"/>
<path d="M89.8 145.7V142.6M105.4 137.9V134.3M126.9 171.8V167.8" stroke="#0a1450" stroke-width="0.7" stroke-opacity="0.8" fill="none"/>
<polyline points="74.1,185.9 75.3,183.4 76.6,182.9 77.8,177.5 79.0,177.6 80.2,172.3 81.5,172.3 82.8,164.5 84.0,162.9 85.2,156.7 86.4,155.3 87.7,150.2 88.9,149.9 89.8,145.2 90.6,146.3 91.8,143.7 93.0,145.0 94.1,142.9 95.2,145.9 96.3,143.0 97.4,146.6 98.5,142.6 99.6,144.4 100.7,141.9 101.8,144.0 102.9,141.2 104.2,141.8 105.4,137.4 106.5,141.8 107.6,138.9 108.7,142.8 109.9,140.5 111.1,144.0 112.3,144.0 113.6,148.6 115.2,153.1 116.5,158.2 117.7,155.5 119.0,159.9 120.2,159.1 121.4,164.4 122.6,164.4 123.7,168.6 124.8,169.8 125.9,174.5 126.9,171.3 128.0,176.1 129.0,173.1 130.0,177.3 131.3,174.9 132.6,179.4 133.9,177.1 135.2,179.6 136.6,179.5 137.9,183.7 139.0,181.9 140.1,184.1 141.1,183.3 142.2,185.0 143.3,183.5 144.4,185.3 145.5,184.4 146.7,185.5 147.8,184.4 148.9,185.5 150.0,184.4 151.1,185.6 152.2,184.9 153.3,185.4 154.4,185.0 155.5,185.8 156.6,184.4 157.7,186.0 158.8,185.0 159.9,185.5 161.0,184.9 162.1,185.9 163.2,184.5 164.3,185.3 165.4,184.6 166.5,186.1 167.6,184.4 168.7,185.3 169.8,184.6 170.9,185.3 171.9,184.6 173.0,186.0 174.1,185.0 175.2,185.8 176.3,184.6 177.4,186.0 178.5,184.7 179.6,185.6 180.7,184.6 181.8,186.0 182.9,184.9 184.0,186.1 185.1,184.6 186.2,185.8 187.3,184.6 188.4,185.6 189.5,184.5 190.6,185.9 191.7,184.5 192.8,185.5 194.0,185.3 195.3,186.2 196.5,185.7" fill="none" stroke="#0a1450" stroke-width="1.0" stroke-linejoin="miter" stroke-opacity="0.85"/>
<path d="M73.7 127.6H197.0V187.2" stroke="#777" stroke-width="1" fill="none"/>
<path d="M73.5 127.6V187.2H197.0" stroke="#1a1a1a" stroke-width="1.3" fill="none"/>
<path d="M134.4 160.6V171.1M134.4 165.9H197.0" stroke="#555" stroke-width="0.9" fill="none"/>
<text x="162.7" y="159.5" font-size="6.5" fill="#555" font-weight="normal" text-anchor="start" textLength="10.2" lengthAdjust="spacing" stroke="#555" stroke-width="0.15">M1</text>
<text x="183.12" y="138.10" font-size="11.6" font-weight="bold" fill="#111" stroke="#111" stroke-width="0.35">B</text>
<text x="192.31" y="138.10" font-size="11.6" font-weight="bold" fill="#111" stroke="#111" stroke-width="0.3" letter-spacing="0.1">i</text>
<text x="127.5" y="145.1" font-size="8.2" fill="#3a3a3a" font-weight="normal" text-anchor="start" textLength="22.7" lengthAdjust="spacing" stroke="#3a3a3a" stroke-width="0.15">3.3%</text>
<text transform="translate(68.2 187.2) rotate(-90)" font-size="6.8" fill="#555" text-anchor="middle">0</text>
<text transform="translate(68.2 172.3) rotate(-90)" font-size="6.8" fill="#555" text-anchor="middle">10</text>
<text transform="translate(68.2 157.4) rotate(-90)" font-size="6.8" fill="#555" text-anchor="middle">20</text>
<text transform="translate(68.2 142.5) rotate(-90)" font-size="6.8" fill="#555" text-anchor="middle">30</text>
<text transform="translate(68.2 127.6) rotate(-90)" font-size="6.8" fill="#555" text-anchor="middle">40</text>
<text transform="translate(60.7 158.0) rotate(-90)" font-size="6.5" fill="#555" text-anchor="middle" textLength="20" lengthAdjust="spacingAndGlyphs">Counts</text>
<text x="68.8" y="198.3" font-size="6.4" fill="#555" textLength="6.4" lengthAdjust="spacingAndGlyphs">10</text>
<text x="75.5" y="194.5" font-size="5.4" fill="#555">0</text>
<text x="99.6" y="198.3" font-size="6.4" fill="#555" textLength="6.4" lengthAdjust="spacingAndGlyphs">10</text>
<text x="106.3" y="194.5" font-size="5.4" fill="#555">1</text>
<text x="130.4" y="198.3" font-size="6.4" fill="#555" textLength="6.4" lengthAdjust="spacingAndGlyphs">10</text>
<text x="137.2" y="194.5" font-size="5.4" fill="#555">2</text>
<text x="161.3" y="198.3" font-size="6.4" fill="#555" textLength="6.4" lengthAdjust="spacingAndGlyphs">10</text>
<text x="168.0" y="194.5" font-size="5.4" fill="#555">3</text>
<text x="192.1" y="198.3" font-size="6.4" fill="#555" textLength="6.4" lengthAdjust="spacingAndGlyphs">10</text>
<text x="198.8" y="194.5" font-size="5.4" fill="#555">4</text>
<text x="114.7" y="204.7" font-size="6.5" fill="#555" font-weight="normal" text-anchor="start" textLength="38.7" lengthAdjust="spacing">PS pure/Cy 3</text>
<path d="M229.4 185.5H232.2 M230.4 183.6H232.2 M230.4 181.7H232.2 M230.4 179.8H232.2 M230.4 177.9H232.2 M229.4 176.0H232.2 M230.4 174.1H232.2 M230.4 172.2H232.2 M230.4 170.3H232.2 M230.4 168.4H232.2 M229.4 166.5H232.2 M230.4 164.6H232.2 M230.4 162.7H232.2 M230.4 160.8H232.2 M230.4 158.9H232.2 M229.4 157.0H232.2 M230.4 155.1H232.2 M230.4 153.2H232.2 M230.4 151.3H232.2 M230.4 149.4H232.2 M229.4 147.5H232.2 M230.4 145.6H232.2 M230.4 143.7H232.2 M230.4 141.8H232.2 M230.4 139.9H232.2 M229.4 138.0H232.2 M230.4 136.1H232.2 M230.4 134.2H232.2 M230.4 132.3H232.2 M230.4 130.4H232.2 M229.4 128.5H232.2 M232.2 185.5V188.1 M241.6 185.5V186.9 M247.0 185.5V186.9 M250.9 185.5V186.9 M253.9 185.5V186.9 M256.4 185.5V186.9 M258.5 185.5V186.9 M260.3 185.5V186.9 M261.9 185.5V186.9 M263.3 185.5V188.1 M272.7 185.5V186.9 M278.1 185.5V186.9 M282.0 185.5V186.9 M285.0 185.5V186.9 M287.5 185.5V186.9 M289.6 185.5V186.9 M291.4 185.5V186.9 M293.0 185.5V186.9 M294.4 185.5V188.1 M303.8 185.5V186.9 M309.2 185.5V186.9 M313.1 185.5V186.9 M316.1 185.5V186.9 M318.6 185.5V186.9 M320.7 185.5V186.9 M322.5 185.5V186.9 M324.1 185.5V186.9 M325.5 185.5V188.1 M334.9 185.5V186.9 M340.3 185.5V186.9 M344.2 185.5V186.9 M347.2 185.5V186.9 M349.7 185.5V186.9 M351.8 185.5V186.9 M353.6 185.5V186.9 M355.2 185.5V186.9 M356.6 185.5V188.1" stroke="#222" stroke-width="0.8" fill="none"/>
<polygon points="232.4,185.5 232.4,160.2 232.9,160.2 233.8,161.3 234.6,155.5 236.2,153.2 237.1,146.4 237.9,145.9 239.5,139.3 240.3,138.3 241.2,133.9 242.8,132.2 243.9,129.2 245.0,130.9 246.1,129.1 247.2,131.3 248.3,129.1 249.4,130.8 251.0,135.2 251.8,141.8 252.7,142.0 254.3,146.8 255.2,144.6 256.0,147.7 257.6,150.7 258.9,155.5 260.1,153.0 261.3,158.3 262.5,156.6 263.8,160.2 265.0,160.5 266.2,163.6 267.5,162.3 268.7,165.4 269.9,164.2 270.8,167.9 271.6,166.0 272.9,169.8 274.1,169.9 275.3,174.3 276.5,172.5 277.8,176.7 279.0,173.9 280.1,174.4 281.2,172.9 282.3,176.0 283.5,171.8 284.7,173.0 285.9,171.5 287.2,174.3 288.3,170.6 289.4,173.5 290.5,170.5 291.5,173.5 292.5,171.4 293.5,173.5 294.7,170.8 295.8,174.0 297.0,170.9 298.2,174.4 299.3,172.5 300.5,173.4 301.7,172.3 302.8,174.5 304.0,172.1 305.2,173.4 306.3,171.5 307.5,173.5 308.6,170.4 309.8,171.3 310.9,169.3 312.0,171.1 313.0,168.6 314.1,171.7 315.1,169.4 316.2,171.0 317.4,169.9 318.5,171.9 319.7,169.5 320.9,171.2 322.0,169.1 323.2,170.6 324.3,168.8 325.5,172.1 326.6,169.9 327.8,173.1 328.9,170.6 330.1,172.8 331.3,170.8 332.4,174.0 333.6,173.6 334.8,177.2 335.9,174.0 337.1,175.9 338.3,176.3 339.4,178.7 340.6,176.9 341.8,182.0 342.9,180.7 344.1,182.9 345.3,181.5 346.4,184.0 347.6,183.3 348.8,184.4 349.9,184.4 351.1,185.2 352.3,185.1 353.6,185.3 354.8,185.3 356.0,185.4 356.0,185.5" fill="#1129ae"/>
<path d="M251.8 142.3V139.2M261.3 158.8V155.9M263.8 160.7V158.4M272.9 170.3V167.0M325.5 172.6V169.9" stroke="#0a1450" stroke-width="0.7" stroke-opacity="0.8" fill="none"/>
<polyline points="232.4,160.2 232.9,160.2 233.8,161.3 234.6,155.5 236.2,153.2 237.1,146.4 237.9,145.9 239.5,139.3 240.3,138.3 241.2,133.9 242.8,132.2 243.9,129.2 245.0,130.9 246.1,129.1 247.2,131.3 248.3,129.1 249.4,130.8 251.0,135.2 251.8,141.8 252.7,142.0 254.3,146.8 255.2,144.6 256.0,147.7 257.6,150.7 258.9,155.5 260.1,153.0 261.3,158.3 262.5,156.6 263.8,160.2 265.0,160.5 266.2,163.6 267.5,162.3 268.7,165.4 269.9,164.2 270.8,167.9 271.6,166.0 272.9,169.8 274.1,169.9 275.3,174.3 276.5,172.5 277.8,176.7 279.0,173.9 280.1,174.4 281.2,172.9 282.3,176.0 283.5,171.8 284.7,173.0 285.9,171.5 287.2,174.3 288.3,170.6 289.4,173.5 290.5,170.5 291.5,173.5 292.5,171.4 293.5,173.5 294.7,170.8 295.8,174.0 297.0,170.9 298.2,174.4 299.3,172.5 300.5,173.4 301.7,172.3 302.8,174.5 304.0,172.1 305.2,173.4 306.3,171.5 307.5,173.5 308.6,170.4 309.8,171.3 310.9,169.3 312.0,171.1 313.0,168.6 314.1,171.7 315.1,169.4 316.2,171.0 317.4,169.9 318.5,171.9 319.7,169.5 320.9,171.2 322.0,169.1 323.2,170.6 324.3,168.8 325.5,172.1 326.6,169.9 327.8,173.1 328.9,170.6 330.1,172.8 331.3,170.8 332.4,174.0 333.6,173.6 334.8,177.2 335.9,174.0 337.1,175.9 338.3,176.3 339.4,178.7 340.6,176.9 341.8,182.0 342.9,180.7 344.1,182.9 345.3,181.5 346.4,184.0 347.6,183.3 348.8,184.4 349.9,184.4 351.1,185.2 352.3,185.1 353.6,185.3 354.8,185.3 356.0,185.4" fill="none" stroke="#0a1450" stroke-width="1.0" stroke-linejoin="miter" stroke-opacity="0.85"/>
<path d="M232.2 128.5H356.6V185.5" stroke="#777" stroke-width="1" fill="none"/>
<path d="M232.0 128.5V185.5H356.6" stroke="#1a1a1a" stroke-width="1.3" fill="none"/>
<path d="M293.1 158.0V171.1M293.1 164.5H356.6" stroke="#555" stroke-width="0.9" fill="none"/>
<text x="321.8" y="158.6" font-size="6.5" fill="#555" font-weight="normal" text-anchor="start" textLength="10.2" lengthAdjust="spacing" stroke="#555" stroke-width="0.15">M1</text>
<text x="339.92" y="138.60" font-size="11.6" font-weight="bold" fill="#111" stroke="#111" stroke-width="0.35">B</text>
<text x="349.09" y="138.60" font-size="11.6" font-weight="bold" fill="#111" stroke="#111" stroke-width="0.3" letter-spacing="0.1">ii</text>
<text x="280.7" y="142.2" font-size="8.2" fill="#3a3a3a" font-weight="normal" text-anchor="start" textLength="29.7" lengthAdjust="spacing" stroke="#3a3a3a" stroke-width="0.15">21.1%</text>
<text transform="translate(226.7 185.5) rotate(-90)" font-size="6.8" fill="#555" text-anchor="middle">0</text>
<text transform="translate(226.7 176.0) rotate(-90)" font-size="6.8" fill="#555" text-anchor="middle">5</text>
<text transform="translate(226.7 166.5) rotate(-90)" font-size="6.8" fill="#555" text-anchor="middle">10</text>
<text transform="translate(226.7 157.0) rotate(-90)" font-size="6.8" fill="#555" text-anchor="middle">15</text>
<text transform="translate(226.7 147.5) rotate(-90)" font-size="6.8" fill="#555" text-anchor="middle">20</text>
<text transform="translate(226.7 138.0) rotate(-90)" font-size="6.8" fill="#555" text-anchor="middle">25</text>
<text transform="translate(226.7 128.5) rotate(-90)" font-size="6.8" fill="#555" text-anchor="middle">30</text>
<text transform="translate(218.8 156.7) rotate(-90)" font-size="6.5" fill="#555" text-anchor="middle" textLength="20" lengthAdjust="spacingAndGlyphs">Counts</text>
<text x="227.3" y="196.1" font-size="6.4" fill="#555" textLength="6.4" lengthAdjust="spacingAndGlyphs">10</text>
<text x="234.0" y="192.3" font-size="5.4" fill="#555">0</text>
<text x="258.4" y="196.1" font-size="6.4" fill="#555" textLength="6.4" lengthAdjust="spacingAndGlyphs">10</text>
<text x="265.1" y="192.3" font-size="5.4" fill="#555">1</text>
<text x="289.5" y="196.1" font-size="6.4" fill="#555" textLength="6.4" lengthAdjust="spacingAndGlyphs">10</text>
<text x="296.2" y="192.3" font-size="5.4" fill="#555">2</text>
<text x="320.6" y="196.1" font-size="6.4" fill="#555" textLength="6.4" lengthAdjust="spacingAndGlyphs">10</text>
<text x="327.3" y="192.3" font-size="5.4" fill="#555">3</text>
<text x="351.7" y="196.1" font-size="6.4" fill="#555" textLength="6.4" lengthAdjust="spacingAndGlyphs">10</text>
<text x="358.4" y="192.3" font-size="5.4" fill="#555">4</text>
<text x="272.8" y="202.2" font-size="6.5" fill="#555" font-weight="normal" text-anchor="start" textLength="39.8" lengthAdjust="spacing">PSR-Cy3 IL-1</text>
<path d="M390.9 185.7H393.7 M391.9 183.7H393.7 M391.9 181.8H393.7 M391.9 179.8H393.7 M391.9 177.9H393.7 M390.9 175.9H393.7 M391.9 174.0H393.7 M391.9 172.0H393.7 M391.9 170.1H393.7 M391.9 168.1H393.7 M390.9 166.2H393.7 M391.9 164.2H393.7 M391.9 162.3H393.7 M391.9 160.3H393.7 M391.9 158.4H393.7 M390.9 156.4H393.7 M391.9 154.4H393.7 M391.9 152.5H393.7 M391.9 150.5H393.7 M391.9 148.6H393.7 M390.9 146.6H393.7 M391.9 144.7H393.7 M391.9 142.7H393.7 M391.9 140.8H393.7 M391.9 138.8H393.7 M390.9 136.9H393.7 M391.9 134.9H393.7 M391.9 133.0H393.7 M391.9 131.0H393.7 M391.9 129.1H393.7 M390.9 127.1H393.7 M393.7 185.7V188.3 M402.8 185.7V187.1 M408.1 185.7V187.1 M411.9 185.7V187.1 M414.8 185.7V187.1 M417.2 185.7V187.1 M419.2 185.7V187.1 M420.9 185.7V187.1 M422.5 185.7V187.1 M423.8 185.7V188.3 M432.9 185.7V187.1 M438.2 185.7V187.1 M442.0 185.7V187.1 M444.9 185.7V187.1 M447.3 185.7V187.1 M449.3 185.7V187.1 M451.1 185.7V187.1 M452.6 185.7V187.1 M454.0 185.7V188.3 M463.1 185.7V187.1 M468.4 185.7V187.1 M472.2 185.7V187.1 M475.1 185.7V187.1 M477.5 185.7V187.1 M479.5 185.7V187.1 M481.2 185.7V187.1 M482.8 185.7V187.1 M484.1 185.7V188.3 M493.2 185.7V187.1 M498.5 185.7V187.1 M502.3 185.7V187.1 M505.2 185.7V187.1 M507.6 185.7V187.1 M509.6 185.7V187.1 M511.4 185.7V187.1 M512.9 185.7V187.1 M514.3 185.7V188.3" stroke="#222" stroke-width="0.8" fill="none"/>
<polygon points="393.9,185.7 393.9,173.2 394.9,171.2 395.8,171.2 396.6,166.3 398.2,167.4 399.0,161.9 399.9,162.8 401.5,152.7 402.4,152.7 403.2,146.1 404.8,144.4 406.1,141.0 407.3,141.0 408.5,137.3 409.7,139.2 410.5,136.8 411.4,141.5 413.0,143.0 413.9,147.0 414.7,146.5 416.3,147.3 417.6,145.2 418.8,148.8 420.4,148.7 421.6,153.3 422.9,153.4 424.1,156.5 425.4,156.3 426.6,160.8 427.8,159.0 429.1,163.7 430.3,162.5 431.6,167.1 432.8,164.1 434.0,168.2 435.2,166.4 436.4,170.7 437.7,170.3 439.3,170.6 440.6,169.1 441.8,171.7 443.1,167.8 444.3,170.5 445.5,165.6 446.7,168.1 447.9,162.5 449.2,162.8 450.4,162.5 451.7,168.6 452.9,165.5 454.0,169.9 455.2,166.0 456.4,169.7 457.5,169.0 458.7,172.2 459.9,170.0 461.0,172.5 462.2,169.0 463.4,172.7 464.5,167.3 465.7,171.1 466.9,166.7 468.0,169.2 469.2,166.3 470.4,169.2 471.5,166.9 472.7,169.4 473.9,166.6 475.0,168.2 476.2,165.9 477.4,168.6 478.5,164.8 479.7,167.3 480.9,165.8 482.0,168.3 483.2,166.0 484.3,168.8 485.5,165.0 486.6,168.8 487.8,166.3 488.9,167.1 490.1,166.1 491.3,171.2 492.4,168.8 493.6,173.1 494.8,169.7 495.9,174.1 497.1,173.3 498.3,177.6 499.4,174.6 500.6,178.2 501.8,178.0 502.9,180.8 504.1,180.5 505.3,182.8 506.4,183.0 507.6,184.8 508.8,184.5 509.9,185.1 511.1,185.4 512.1,185.5 513.0,185.5 514.0,185.6 514.0,185.7" fill="#1129ae"/>
<path d="M449.2 163.3V160.7M463.4 173.2V169.9M480.9 166.3V164.2M486.6 169.3V166.7M498.3 178.1V174.4" stroke="#0a1450" stroke-width="0.7" stroke-opacity="0.8" fill="none"/>
<polyline points="393.9,173.2 394.9,171.2 395.8,171.2 396.6,166.3 398.2,167.4 399.0,161.9 399.9,162.8 401.5,152.7 402.4,152.7 403.2,146.1 404.8,144.4 406.1,141.0 407.3,141.0 408.5,137.3 409.7,139.2 410.5,136.8 411.4,141.5 413.0,143.0 413.9,147.0 414.7,146.5 416.3,147.3 417.6,145.2 418.8,148.8 420.4,148.7 421.6,153.3 422.9,153.4 424.1,156.5 425.4,156.3 426.6,160.8 427.8,159.0 429.1,163.7 430.3,162.5 431.6,167.1 432.8,164.1 434.0,168.2 435.2,166.4 436.4,170.7 437.7,170.3 439.3,170.6 440.6,169.1 441.8,171.7 443.1,167.8 444.3,170.5 445.5,165.6 446.7,168.1 447.9,162.5 449.2,162.8 450.4,162.5 451.7,168.6 452.9,165.5 454.0,169.9 455.2,166.0 456.4,169.7 457.5,169.0 458.7,172.2 459.9,170.0 461.0,172.5 462.2,169.0 463.4,172.7 464.5,167.3 465.7,171.1 466.9,166.7 468.0,169.2 469.2,166.3 470.4,169.2 471.5,166.9 472.7,169.4 473.9,166.6 475.0,168.2 476.2,165.9 477.4,168.6 478.5,164.8 479.7,167.3 480.9,165.8 482.0,168.3 483.2,166.0 484.3,168.8 485.5,165.0 486.6,168.8 487.8,166.3 488.9,167.1 490.1,166.1 491.3,171.2 492.4,168.8 493.6,173.1 494.8,169.7 495.9,174.1 497.1,173.3 498.3,177.6 499.4,174.6 500.6,178.2 501.8,178.0 502.9,180.8 504.1,180.5 505.3,182.8 506.4,183.0 507.6,184.8 508.8,184.5 509.9,185.1 511.1,185.4 512.1,185.5 513.0,185.5 514.0,185.6" fill="none" stroke="#0a1450" stroke-width="1.0" stroke-linejoin="miter" stroke-opacity="0.85"/>
<path d="M393.7 127.1H514.3V185.7" stroke="#777" stroke-width="1" fill="none"/>
<path d="M393.5 127.1V185.7H514.3" stroke="#1a1a1a" stroke-width="1.3" fill="none"/>
<path d="M453.1 157.2V168.0M453.1 163.6H514.3" stroke="#555" stroke-width="0.9" fill="none"/>
<text x="480.9" y="157.5" font-size="6.5" fill="#555" font-weight="normal" text-anchor="start" textLength="10.2" lengthAdjust="spacing" stroke="#555" stroke-width="0.15">M1</text>
<text x="493.62" y="137.70" font-size="11.6" font-weight="bold" fill="#111" stroke="#111" stroke-width="0.35">B</text>
<text x="502.97" y="137.70" font-size="11.6" font-weight="bold" fill="#111" stroke="#111" stroke-width="0.3" letter-spacing="0.1">iii</text>
<text x="435.4" y="141.9" font-size="8.2" fill="#3a3a3a" font-weight="normal" text-anchor="start" textLength="28.9" lengthAdjust="spacing" stroke="#3a3a3a" stroke-width="0.15">30.7%</text>
<text transform="translate(388.2 185.7) rotate(-90)" font-size="6.8" fill="#555" text-anchor="middle">0</text>
<text transform="translate(388.2 175.9) rotate(-90)" font-size="6.8" fill="#555" text-anchor="middle">5</text>
<text transform="translate(388.2 166.2) rotate(-90)" font-size="6.8" fill="#555" text-anchor="middle">10</text>
<text transform="translate(388.2 156.4) rotate(-90)" font-size="6.8" fill="#555" text-anchor="middle">15</text>
<text transform="translate(388.2 146.6) rotate(-90)" font-size="6.8" fill="#555" text-anchor="middle">20</text>
<text transform="translate(388.2 136.9) rotate(-90)" font-size="6.8" fill="#555" text-anchor="middle">25</text>
<text transform="translate(388.2 127.1) rotate(-90)" font-size="6.8" fill="#555" text-anchor="middle">30</text>
<text transform="translate(379.9 157.0) rotate(-90)" font-size="6.5" fill="#555" text-anchor="middle" textLength="20" lengthAdjust="spacingAndGlyphs">Counts</text>
<text x="388.8" y="196.3" font-size="6.4" fill="#555" textLength="6.4" lengthAdjust="spacingAndGlyphs">10</text>
<text x="395.5" y="192.5" font-size="5.4" fill="#555">0</text>
<text x="418.9" y="196.3" font-size="6.4" fill="#555" textLength="6.4" lengthAdjust="spacingAndGlyphs">10</text>
<text x="425.6" y="192.5" font-size="5.4" fill="#555">1</text>
<text x="449.1" y="196.3" font-size="6.4" fill="#555" textLength="6.4" lengthAdjust="spacingAndGlyphs">10</text>
<text x="455.8" y="192.5" font-size="5.4" fill="#555">2</text>
<text x="479.2" y="196.3" font-size="6.4" fill="#555" textLength="6.4" lengthAdjust="spacingAndGlyphs">10</text>
<text x="485.9" y="192.5" font-size="5.4" fill="#555">3</text>
<text x="509.4" y="196.3" font-size="6.4" fill="#555" textLength="6.4" lengthAdjust="spacingAndGlyphs">10</text>
<text x="516.1" y="192.5" font-size="5.4" fill="#555">4</text>
<text x="432.0" y="202.2" font-size="6.5" fill="#555" font-weight="normal" text-anchor="start" textLength="40.0" lengthAdjust="spacing">PSR-Cy3 TNF</text>
<path d="M69.7 280.7H72.5 M70.7 278.8H72.5 M70.7 277.0H72.5 M70.7 275.1H72.5 M70.7 273.2H72.5 M69.7 271.3H72.5 M70.7 269.5H72.5 M70.7 267.6H72.5 M70.7 265.7H72.5 M70.7 263.9H72.5 M69.7 262.0H72.5 M70.7 260.1H72.5 M70.7 258.3H72.5 M70.7 256.4H72.5 M70.7 254.5H72.5 M69.7 252.6H72.5 M70.7 250.8H72.5 M70.7 248.9H72.5 M70.7 247.0H72.5 M70.7 245.2H72.5 M69.7 243.3H72.5 M70.7 241.4H72.5 M70.7 239.6H72.5 M70.7 237.7H72.5 M70.7 235.8H72.5 M69.7 233.9H72.5 M70.7 232.1H72.5 M70.7 230.2H72.5 M70.7 228.3H72.5 M70.7 226.5H72.5 M69.7 224.6H72.5 M72.5 280.7V283.3 M81.8 280.7V282.1 M87.2 280.7V282.1 M91.0 280.7V282.1 M94.0 280.7V282.1 M96.5 280.7V282.1 M98.5 280.7V282.1 M100.3 280.7V282.1 M101.9 280.7V282.1 M103.3 280.7V283.3 M112.6 280.7V282.1 M118.0 280.7V282.1 M121.8 280.7V282.1 M124.8 280.7V282.1 M127.3 280.7V282.1 M129.3 280.7V282.1 M131.1 280.7V282.1 M132.7 280.7V282.1 M134.1 280.7V283.3 M143.4 280.7V282.1 M148.8 280.7V282.1 M152.6 280.7V282.1 M155.6 280.7V282.1 M158.1 280.7V282.1 M160.1 280.7V282.1 M161.9 280.7V282.1 M163.5 280.7V282.1 M164.9 280.7V283.3 M174.2 280.7V282.1 M179.6 280.7V282.1 M183.4 280.7V282.1 M186.4 280.7V282.1 M188.9 280.7V282.1 M190.9 280.7V282.1 M192.7 280.7V282.1 M194.3 280.7V282.1 M195.7 280.7V283.3" stroke="#222" stroke-width="0.8" fill="none"/>
<polygon points="72.8,280.7 72.8,247.3 73.8,245.4 74.9,247.2 75.8,242.6 76.6,242.1 78.2,230.2 79.1,230.7 79.9,225.2 81.0,228.1 82.0,225.2 83.1,227.6 84.2,225.2 85.2,225.9 86.3,225.2 87.4,228.0 88.5,225.2 89.5,227.7 90.6,225.2 91.4,232.0 93.0,233.5 93.8,237.6 94.7,236.7 95.9,241.2 97.1,240.2 98.3,243.6 99.6,241.3 100.8,246.0 102.1,246.0 103.3,250.2 104.5,250.3 105.8,254.4 107.0,254.3 108.2,259.9 109.5,259.3 110.7,262.2 111.9,261.8 113.2,263.8 114.4,262.8 115.5,265.5 116.6,264.0 117.7,264.5 118.8,264.1 119.9,268.1 121.0,265.1 122.1,268.4 123.2,266.8 124.3,268.3 125.4,267.1 126.5,271.6 127.6,268.8 128.7,268.4 129.8,266.7 130.9,268.7 132.2,265.4 133.5,267.2 134.7,265.0 135.8,268.2 137.0,265.6 138.2,268.3 139.3,265.8 140.5,266.3 141.7,265.4 142.8,269.1 144.0,265.4 145.2,268.9 146.3,266.6 147.5,267.9 148.6,267.4 149.8,271.2 150.9,268.8 152.1,270.8 153.2,270.6 154.4,274.2 155.6,271.0 156.7,274.3 157.9,271.6 159.1,274.6 160.2,272.0 161.4,275.1 162.6,273.8 163.7,276.4 164.9,275.4 166.1,277.1 167.2,274.7 168.4,278.4 169.6,275.6 170.7,277.1 171.9,276.0 173.1,278.2 174.2,276.8 175.4,278.3 176.6,277.2 177.7,278.6 178.9,278.2 180.1,279.5 181.2,278.7 182.4,279.7 183.4,279.3 184.5,279.8 185.5,279.7 186.6,280.3 187.6,280.2 188.7,280.3 189.9,280.2 191.0,280.5 192.1,280.3 193.2,280.5 194.4,280.5 195.5,280.6 195.5,280.7" fill="#1129ae"/>
<path d="M89.5 228.2V225.8M91.4 232.5V229.3M117.7 265.0V261.8M132.2 265.9V263.7M147.5 268.4V265.7M153.2 271.1V268.8" stroke="#0a1450" stroke-width="0.7" stroke-opacity="0.8" fill="none"/>
<polyline points="72.8,247.3 73.8,245.4 74.9,247.2 75.8,242.6 76.6,242.1 78.2,230.2 79.1,230.7 79.9,225.2 81.0,228.1 82.0,225.2 83.1,227.6 84.2,225.2 85.2,225.9 86.3,225.2 87.4,228.0 88.5,225.2 89.5,227.7 90.6,225.2 91.4,232.0 93.0,233.5 93.8,237.6 94.7,236.7 95.9,241.2 97.1,240.2 98.3,243.6 99.6,241.3 100.8,246.0 102.1,246.0 103.3,250.2 104.5,250.3 105.8,254.4 107.0,254.3 108.2,259.9 109.5,259.3 110.7,262.2 111.9,261.8 113.2,263.8 114.4,262.8 115.5,265.5 116.6,264.0 117.7,264.5 118.8,264.1 119.9,268.1 121.0,265.1 122.1,268.4 123.2,266.8 124.3,268.3 125.4,267.1 126.5,271.6 127.6,268.8 128.7,268.4 129.8,266.7 130.9,268.7 132.2,265.4 133.5,267.2 134.7,265.0 135.8,268.2 137.0,265.6 138.2,268.3 139.3,265.8 140.5,266.3 141.7,265.4 142.8,269.1 144.0,265.4 145.2,268.9 146.3,266.6 147.5,267.9 148.6,267.4 149.8,271.2 150.9,268.8 152.1,270.8 153.2,270.6 154.4,274.2 155.6,271.0 156.7,274.3 157.9,271.6 159.1,274.6 160.2,272.0 161.4,275.1 162.6,273.8 163.7,276.4 164.9,275.4 166.1,277.1 167.2,274.7 168.4,278.4 169.6,275.6 170.7,277.1 171.9,276.0 173.1,278.2 174.2,276.8 175.4,278.3 176.6,277.2 177.7,278.6 178.9,278.2 180.1,279.5 181.2,278.7 182.4,279.7 183.4,279.3 184.5,279.8 185.5,279.7 186.6,280.3 187.6,280.2 188.7,280.3 189.9,280.2 191.0,280.5 192.1,280.3 193.2,280.5 194.4,280.5 195.5,280.6" fill="none" stroke="#0a1450" stroke-width="1.0" stroke-linejoin="miter" stroke-opacity="0.85"/>
<path d="M72.5 224.6H195.7V280.7" stroke="#777" stroke-width="1" fill="none"/>
<path d="M72.3 224.6V280.7H195.7" stroke="#1a1a1a" stroke-width="1.3" fill="none"/>
<path d="M133.5 254.0V266.2M133.5 259.3H195.7" stroke="#555" stroke-width="0.9" fill="none"/>
<text x="161.8" y="251.2" font-size="6.5" fill="#555" font-weight="normal" text-anchor="start" textLength="10.2" lengthAdjust="spacing" stroke="#555" stroke-width="0.15">M1</text>
<text x="180.77" y="234.50" font-size="11.6" font-weight="bold" fill="#111" stroke="#111" stroke-width="0.35">C</text>
<text x="191.11" y="234.50" font-size="11.6" font-weight="bold" fill="#111" stroke="#111" stroke-width="0.3" letter-spacing="0.1">i</text>
<text x="119.1" y="237.9" font-size="8.2" fill="#3a3a3a" font-weight="normal" text-anchor="start" textLength="28.1" lengthAdjust="spacing" stroke="#3a3a3a" stroke-width="0.15">12.7%</text>
<text transform="translate(67.0 280.7) rotate(-90)" font-size="6.8" fill="#555" text-anchor="middle">0</text>
<text transform="translate(67.0 271.3) rotate(-90)" font-size="6.8" fill="#555" text-anchor="middle">5</text>
<text transform="translate(67.0 262.0) rotate(-90)" font-size="6.8" fill="#555" text-anchor="middle">10</text>
<text transform="translate(67.0 252.6) rotate(-90)" font-size="6.8" fill="#555" text-anchor="middle">15</text>
<text transform="translate(67.0 243.3) rotate(-90)" font-size="6.8" fill="#555" text-anchor="middle">20</text>
<text transform="translate(67.0 233.9) rotate(-90)" font-size="6.8" fill="#555" text-anchor="middle">25</text>
<text transform="translate(67.0 224.6) rotate(-90)" font-size="6.8" fill="#555" text-anchor="middle">30</text>
<text transform="translate(60.1 253.0) rotate(-90)" font-size="6.5" fill="#555" text-anchor="middle" textLength="20" lengthAdjust="spacingAndGlyphs">Counts</text>
<text x="67.6" y="291.5" font-size="6.4" fill="#555" textLength="6.4" lengthAdjust="spacingAndGlyphs">10</text>
<text x="74.3" y="287.7" font-size="5.4" fill="#555">0</text>
<text x="98.4" y="291.5" font-size="6.4" fill="#555" textLength="6.4" lengthAdjust="spacingAndGlyphs">10</text>
<text x="105.1" y="287.7" font-size="5.4" fill="#555">1</text>
<text x="129.2" y="291.5" font-size="6.4" fill="#555" textLength="6.4" lengthAdjust="spacingAndGlyphs">10</text>
<text x="135.9" y="287.7" font-size="5.4" fill="#555">2</text>
<text x="160.0" y="291.5" font-size="6.4" fill="#555" textLength="6.4" lengthAdjust="spacingAndGlyphs">10</text>
<text x="166.7" y="287.7" font-size="5.4" fill="#555">3</text>
<text x="190.8" y="291.5" font-size="6.4" fill="#555" textLength="6.4" lengthAdjust="spacingAndGlyphs">10</text>
<text x="197.5" y="287.7" font-size="5.4" fill="#555">4</text>
<text x="81.6" y="298.7" font-size="6.5" fill="#555" font-weight="normal" text-anchor="start" textLength="101.4" lengthAdjust="spacing">a-PSR + a-mouse IgM-cy3 - Contro</text>
<path d="M230.3 280.7H233.1 M231.3 277.8H233.1 M231.3 274.8H233.1 M231.3 271.9H233.1 M231.3 269.0H233.1 M230.3 266.1H233.1 M231.3 263.1H233.1 M231.3 260.2H233.1 M231.3 257.3H233.1 M231.3 254.4H233.1 M230.3 251.4H233.1 M231.3 248.5H233.1 M231.3 245.6H233.1 M231.3 242.7H233.1 M231.3 239.8H233.1 M230.3 236.8H233.1 M231.3 233.9H233.1 M231.3 231.0H233.1 M231.3 228.0H233.1 M231.3 225.1H233.1 M230.3 222.2H233.1 M233.1 280.7V283.3 M242.4 280.7V282.1 M247.8 280.7V282.1 M251.7 280.7V282.1 M254.7 280.7V282.1 M257.1 280.7V282.1 M259.2 280.7V282.1 M261.0 280.7V282.1 M262.6 280.7V282.1 M264.0 280.7V283.3 M273.3 280.7V282.1 M278.7 280.7V282.1 M282.6 280.7V282.1 M285.6 280.7V282.1 M288.0 280.7V282.1 M290.1 280.7V282.1 M291.9 280.7V282.1 M293.4 280.7V282.1 M294.9 280.7V283.3 M304.1 280.7V282.1 M309.6 280.7V282.1 M313.4 280.7V282.1 M316.4 280.7V282.1 M318.9 280.7V282.1 M320.9 280.7V282.1 M322.7 280.7V282.1 M324.3 280.7V282.1 M325.7 280.7V283.3 M335.0 280.7V282.1 M340.5 280.7V282.1 M344.3 280.7V282.1 M347.3 280.7V282.1 M349.8 280.7V282.1 M351.8 280.7V282.1 M353.6 280.7V282.1 M355.2 280.7V282.1 M356.6 280.7V283.3" stroke="#222" stroke-width="0.8" fill="none"/>
<polygon points="233.4,280.7 233.4,266.2 234.4,261.9 235.4,263.5 237.0,257.4 237.8,255.7 238.7,249.9 240.3,248.0 241.6,245.6 242.8,249.1 244.1,243.5 245.3,244.0 246.5,243.9 247.7,247.9 248.9,244.8 250.2,251.7 251.4,251.1 252.7,257.9 253.9,257.4 255.1,262.7 256.4,259.6 257.6,264.0 258.9,261.9 260.1,265.5 261.3,264.2 262.5,267.1 263.8,262.7 265.0,264.7 266.2,264.4 267.5,266.1 268.7,266.5 269.9,270.2 271.1,268.3 272.4,270.3 273.5,268.2 274.6,272.9 275.7,268.9 276.8,271.7 277.9,270.2 279.0,273.0 280.1,271.0 281.2,272.8 282.3,270.7 283.4,272.6 284.5,271.3 285.6,272.6 286.7,270.8 287.8,273.6 288.9,270.2 289.8,272.5 290.8,268.5 291.7,270.4 293.0,266.6 294.4,267.9 295.7,264.4 297.0,266.2 298.3,263.3 299.6,265.8 300.9,261.8 302.2,263.2 303.5,261.4 304.8,263.6 306.1,258.5 307.5,261.9 308.8,258.5 310.1,259.6 311.4,256.2 312.7,256.4 314.0,254.0 315.3,254.5 316.2,251.4 317.1,254.2 318.0,252.7 318.8,255.8 320.1,255.0 321.4,259.4 322.7,258.5 324.0,263.8 325.3,263.0 326.6,267.5 328.0,267.0 329.3,271.0 330.6,271.2 331.9,274.0 333.1,274.3 334.2,276.8 335.4,274.2 336.6,276.9 337.7,275.9 338.9,276.6 340.1,277.4 341.2,278.7 342.4,277.9 343.5,279.1 344.7,278.3 345.8,279.7 346.9,279.1 348.0,280.1 349.1,279.6 350.2,280.3 351.4,280.0 352.5,280.3 353.7,280.2 354.8,280.5 356.0,280.5 356.0,280.7" fill="#1129ae"/>
<path d="M269.9 270.7V268.4M272.4 270.8V267.0M295.7 264.9V260.9M325.3 263.5V261.4M331.9 274.5V271.1" stroke="#0a1450" stroke-width="0.7" stroke-opacity="0.8" fill="none"/>
<polyline points="233.4,266.2 234.4,261.9 235.4,263.5 237.0,257.4 237.8,255.7 238.7,249.9 240.3,248.0 241.6,245.6 242.8,249.1 244.1,243.5 245.3,244.0 246.5,243.9 247.7,247.9 248.9,244.8 250.2,251.7 251.4,251.1 252.7,257.9 253.9,257.4 255.1,262.7 256.4,259.6 257.6,264.0 258.9,261.9 260.1,265.5 261.3,264.2 262.5,267.1 263.8,262.7 265.0,264.7 266.2,264.4 267.5,266.1 268.7,266.5 269.9,270.2 271.1,268.3 272.4,270.3 273.5,268.2 274.6,272.9 275.7,268.9 276.8,271.7 277.9,270.2 279.0,273.0 280.1,271.0 281.2,272.8 282.3,270.7 283.4,272.6 284.5,271.3 285.6,272.6 286.7,270.8 287.8,273.6 288.9,270.2 289.8,272.5 290.8,268.5 291.7,270.4 293.0,266.6 294.4,267.9 295.7,264.4 297.0,266.2 298.3,263.3 299.6,265.8 300.9,261.8 302.2,263.2 303.5,261.4 304.8,263.6 306.1,258.5 307.5,261.9 308.8,258.5 310.1,259.6 311.4,256.2 312.7,256.4 314.0,254.0 315.3,254.5 316.2,251.4 317.1,254.2 318.0,252.7 318.8,255.8 320.1,255.0 321.4,259.4 322.7,258.5 324.0,263.8 325.3,263.0 326.6,267.5 328.0,267.0 329.3,271.0 330.6,271.2 331.9,274.0 333.1,274.3 334.2,276.8 335.4,274.2 336.6,276.9 337.7,275.9 338.9,276.6 340.1,277.4 341.2,278.7 342.4,277.9 343.5,279.1 344.7,278.3 345.8,279.7 346.9,279.1 348.0,280.1 349.1,279.6 350.2,280.3 351.4,280.0 352.5,280.3 353.7,280.2 354.8,280.5 356.0,280.5" fill="none" stroke="#0a1450" stroke-width="1.0" stroke-linejoin="miter" stroke-opacity="0.85"/>
<path d="M233.1 222.2H356.6V280.7" stroke="#777" stroke-width="1" fill="none"/>
<path d="M232.9 222.2V280.7H356.6" stroke="#1a1a1a" stroke-width="1.3" fill="none"/>
<path d="M293.5 252.0V265.1M293.5 258.5H356.6" stroke="#555" stroke-width="0.9" fill="none"/>
<text x="323.5" y="251.8" font-size="6.5" fill="#555" font-weight="normal" text-anchor="start" textLength="10.2" lengthAdjust="spacing" stroke="#555" stroke-width="0.15">M1</text>
<text x="338.42" y="232.20" font-size="11.6" font-weight="bold" fill="#111" stroke="#111" stroke-width="0.35">C</text>
<text x="348.59" y="232.20" font-size="11.6" font-weight="bold" fill="#111" stroke="#111" stroke-width="0.3" letter-spacing="0.1">ii</text>
<text x="258.1" y="236.9" font-size="8.2" fill="#3a3a3a" font-weight="normal" text-anchor="start" textLength="29.2" lengthAdjust="spacing" stroke="#3a3a3a" stroke-width="0.15">40.2%</text>
<text transform="translate(227.0 280.7) rotate(-90)" font-size="6.8" fill="#555" text-anchor="middle">0</text>
<text transform="translate(227.0 266.1) rotate(-90)" font-size="6.8" fill="#555" text-anchor="middle">10</text>
<text transform="translate(227.0 251.4) rotate(-90)" font-size="6.8" fill="#555" text-anchor="middle">20</text>
<text transform="translate(227.0 236.8) rotate(-90)" font-size="6.8" fill="#555" text-anchor="middle">30</text>
<text transform="translate(227.0 222.2) rotate(-90)" font-size="6.8" fill="#555" text-anchor="middle">40</text>
<text transform="translate(219.6 251.7) rotate(-90)" font-size="6.5" fill="#555" text-anchor="middle" textLength="20" lengthAdjust="spacingAndGlyphs">Counts</text>
<text x="228.2" y="291.5" font-size="6.4" fill="#555" textLength="6.4" lengthAdjust="spacingAndGlyphs">10</text>
<text x="234.9" y="287.7" font-size="5.4" fill="#555">0</text>
<text x="259.1" y="291.5" font-size="6.4" fill="#555" textLength="6.4" lengthAdjust="spacingAndGlyphs">10</text>
<text x="265.8" y="287.7" font-size="5.4" fill="#555">1</text>
<text x="290.0" y="291.5" font-size="6.4" fill="#555" textLength="6.4" lengthAdjust="spacingAndGlyphs">10</text>
<text x="296.7" y="287.7" font-size="5.4" fill="#555">2</text>
<text x="320.8" y="291.5" font-size="6.4" fill="#555" textLength="6.4" lengthAdjust="spacingAndGlyphs">10</text>
<text x="327.5" y="287.7" font-size="5.4" fill="#555">3</text>
<text x="351.7" y="291.5" font-size="6.4" fill="#555" textLength="6.4" lengthAdjust="spacingAndGlyphs">10</text>
<text x="358.4" y="287.7" font-size="5.4" fill="#555">4</text>
<text x="247.8" y="298.7" font-size="6.5" fill="#555" font-weight="normal" text-anchor="start" textLength="91.2" lengthAdjust="spacing">a-PSR + a-mouse IgM-cy3 -IL-1</text>
<path d="M391.4 280.0H394.2 M392.4 277.1H394.2 M392.4 274.1H394.2 M392.4 271.2H394.2 M392.4 268.3H394.2 M391.4 265.4H394.2 M392.4 262.4H394.2 M392.4 259.5H394.2 M392.4 256.6H394.2 M392.4 253.7H394.2 M391.4 250.8H394.2 M392.4 247.8H394.2 M392.4 244.9H394.2 M392.4 242.0H394.2 M392.4 239.1H394.2 M391.4 236.1H394.2 M392.4 233.2H394.2 M392.4 230.3H394.2 M392.4 227.3H394.2 M392.4 224.4H394.2 M391.4 221.5H394.2 M394.2 280.0V282.6 M403.3 280.0V281.4 M408.5 280.0V281.4 M412.3 280.0V281.4 M415.2 280.0V281.4 M417.6 280.0V281.4 M419.6 280.0V281.4 M421.4 280.0V281.4 M422.9 280.0V281.4 M424.3 280.0V282.6 M433.3 280.0V281.4 M438.6 280.0V281.4 M442.4 280.0V281.4 M445.3 280.0V281.4 M447.7 280.0V281.4 M449.7 280.0V281.4 M451.4 280.0V281.4 M453.0 280.0V281.4 M454.4 280.0V282.6 M463.4 280.0V281.4 M468.7 280.0V281.4 M472.5 280.0V281.4 M475.4 280.0V281.4 M477.8 280.0V281.4 M479.8 280.0V281.4 M481.5 280.0V281.4 M483.0 280.0V281.4 M484.4 280.0V282.6 M493.5 280.0V281.4 M498.8 280.0V281.4 M502.5 280.0V281.4 M505.4 280.0V281.4 M507.8 280.0V281.4 M509.8 280.0V281.4 M511.6 280.0V281.4 M513.1 280.0V281.4 M514.5 280.0V282.6" stroke="#222" stroke-width="0.8" fill="none"/>
<polygon points="394.5,280.0 394.5,244.6 395.2,241.2 395.8,256.5 397.4,255.2 399.0,259.6 399.9,251.1 400.7,247.7 402.3,241.8 403.6,244.2 404.8,239.9 406.1,243.0 407.3,242.5 408.5,246.0 409.7,244.2 410.5,248.1 411.4,248.2 412.6,253.4 413.8,252.7 415.1,257.5 416.3,256.3 417.6,259.5 418.8,256.2 420.4,263.5 421.2,259.1 422.1,261.2 423.3,261.6 424.5,266.1 425.6,264.6 426.7,267.8 427.8,266.1 428.9,269.9 430.0,266.7 431.1,270.8 432.2,268.4 433.3,271.0 434.4,268.3 435.5,271.9 436.6,268.8 437.7,271.5 438.8,270.4 439.9,272.7 441.0,270.6 442.1,272.0 443.2,269.1 444.3,272.3 445.4,269.2 446.5,271.6 447.6,269.9 448.7,271.5 449.8,269.5 450.9,270.4 451.8,267.5 452.6,270.9 453.9,267.6 455.2,270.3 456.4,266.0 457.5,267.7 458.7,264.6 459.9,266.2 461.0,264.7 462.2,266.4 463.5,263.5 464.8,265.6 466.1,261.5 467.5,261.9 468.8,258.4 470.1,260.7 471.3,258.5 472.4,260.3 473.6,258.1 474.8,260.2 475.9,257.8 477.1,261.1 478.2,257.8 479.4,260.5 480.5,258.1 481.9,263.0 483.2,260.6 484.5,266.6 485.8,265.5 487.1,269.8 488.4,268.9 489.6,272.3 490.7,270.5 491.9,276.1 493.1,274.3 494.2,276.3 495.4,274.3 496.6,277.9 497.7,276.4 498.9,277.6 500.1,277.4 501.2,278.4 502.4,277.7 503.4,278.9 504.5,278.7 505.5,279.4 506.6,278.9 507.6,279.5 508.6,279.4 509.6,279.7 510.7,279.5 511.7,279.8 512.7,279.7 513.7,279.8 513.7,280.0" fill="#1129ae"/>
<path d="M412.6 253.9V251.0M415.1 258.0V254.2M416.3 256.8V253.6M445.4 269.7V266.0M461.0 265.2V262.5" stroke="#0a1450" stroke-width="0.7" stroke-opacity="0.8" fill="none"/>
<polyline points="394.5,244.6 395.2,241.2 395.8,256.5 397.4,255.2 399.0,259.6 399.9,251.1 400.7,247.7 402.3,241.8 403.6,244.2 404.8,239.9 406.1,243.0 407.3,242.5 408.5,246.0 409.7,244.2 410.5,248.1 411.4,248.2 412.6,253.4 413.8,252.7 415.1,257.5 416.3,256.3 417.6,259.5 418.8,256.2 420.4,263.5 421.2,259.1 422.1,261.2 423.3,261.6 424.5,266.1 425.6,264.6 426.7,267.8 427.8,266.1 428.9,269.9 430.0,266.7 431.1,270.8 432.2,268.4 433.3,271.0 434.4,268.3 435.5,271.9 436.6,268.8 437.7,271.5 438.8,270.4 439.9,272.7 441.0,270.6 442.1,272.0 443.2,269.1 444.3,272.3 445.4,269.2 446.5,271.6 447.6,269.9 448.7,271.5 449.8,269.5 450.9,270.4 451.8,267.5 452.6,270.9 453.9,267.6 455.2,270.3 456.4,266.0 457.5,267.7 458.7,264.6 459.9,266.2 461.0,264.7 462.2,266.4 463.5,263.5 464.8,265.6 466.1,261.5 467.5,261.9 468.8,258.4 470.1,260.7 471.3,258.5 472.4,260.3 473.6,258.1 474.8,260.2 475.9,257.8 477.1,261.1 478.2,257.8 479.4,260.5 480.5,258.1 481.9,263.0 483.2,260.6 484.5,266.6 485.8,265.5 487.1,269.8 488.4,268.9 489.6,272.3 490.7,270.5 491.9,276.1 493.1,274.3 494.2,276.3 495.4,274.3 496.6,277.9 497.7,276.4 498.9,277.6 500.1,277.4 501.2,278.4 502.4,277.7 503.4,278.9 504.5,278.7 505.5,279.4 506.6,278.9 507.6,279.5 508.6,279.4 509.6,279.7 510.7,279.5 511.7,279.8 512.7,279.7 513.7,279.8" fill="none" stroke="#0a1450" stroke-width="1.0" stroke-linejoin="miter" stroke-opacity="0.85"/>
<path d="M394.2 221.5H514.5V280.0" stroke="#777" stroke-width="1" fill="none"/>
<path d="M394.0 221.5V280.0H514.5" stroke="#1a1a1a" stroke-width="1.3" fill="none"/>
<path d="M453.5 252.0V263.4M453.5 257.8H514.5" stroke="#555" stroke-width="0.9" fill="none"/>
<text x="480.6" y="250.4" font-size="6.5" fill="#555" font-weight="normal" text-anchor="start" textLength="10.2" lengthAdjust="spacing" stroke="#555" stroke-width="0.15">M1</text>
<text x="492.72" y="232.00" font-size="11.6" font-weight="bold" fill="#111" stroke="#111" stroke-width="0.35">C</text>
<text x="502.67" y="232.00" font-size="11.6" font-weight="bold" fill="#111" stroke="#111" stroke-width="0.3" letter-spacing="0.1">iii</text>
<text x="422.1" y="236.3" font-size="8.2" fill="#3a3a3a" font-weight="normal" text-anchor="start" textLength="29.2" lengthAdjust="spacing" stroke="#3a3a3a" stroke-width="0.15">31.9%</text>
<text transform="translate(387.8 280.0) rotate(-90)" font-size="6.8" fill="#555" text-anchor="middle">0</text>
<text transform="translate(387.8 265.4) rotate(-90)" font-size="6.8" fill="#555" text-anchor="middle">10</text>
<text transform="translate(387.8 250.8) rotate(-90)" font-size="6.8" fill="#555" text-anchor="middle">20</text>
<text transform="translate(387.8 236.1) rotate(-90)" font-size="6.8" fill="#555" text-anchor="middle">30</text>
<text transform="translate(387.8 221.5) rotate(-90)" font-size="6.8" fill="#555" text-anchor="middle">40</text>
<text transform="translate(379.8 250.5) rotate(-90)" font-size="6.5" fill="#555" text-anchor="middle" textLength="20" lengthAdjust="spacingAndGlyphs">Counts</text>
<text x="389.3" y="291.5" font-size="6.4" fill="#555" textLength="6.4" lengthAdjust="spacingAndGlyphs">10</text>
<text x="396.0" y="287.7" font-size="5.4" fill="#555">0</text>
<text x="419.4" y="291.5" font-size="6.4" fill="#555" textLength="6.4" lengthAdjust="spacingAndGlyphs">10</text>
<text x="426.1" y="287.7" font-size="5.4" fill="#555">1</text>
<text x="449.5" y="291.5" font-size="6.4" fill="#555" textLength="6.4" lengthAdjust="spacingAndGlyphs">10</text>
<text x="456.2" y="287.7" font-size="5.4" fill="#555">2</text>
<text x="479.5" y="291.5" font-size="6.4" fill="#555" textLength="6.4" lengthAdjust="spacingAndGlyphs">10</text>
<text x="486.2" y="287.7" font-size="5.4" fill="#555">3</text>
<text x="509.6" y="291.5" font-size="6.4" fill="#555" textLength="6.4" lengthAdjust="spacingAndGlyphs">10</text>
<text x="516.3" y="287.7" font-size="5.4" fill="#555">4</text>
<text x="405.1" y="298.2" font-size="6.5" fill="#555" font-weight="normal" text-anchor="start" textLength="89.8" lengthAdjust="spacing">a-PSR + a-mouse IgM-cy3 - TNF</text>
<path d="M70.7 381.9H73.5 M71.7 378.7H73.5 M71.7 375.5H73.5 M71.7 372.2H73.5 M71.7 369.0H73.5 M70.7 365.8H73.5 M71.7 362.6H73.5 M71.7 359.4H73.5 M71.7 356.1H73.5 M71.7 352.9H73.5 M70.7 349.7H73.5 M71.7 346.5H73.5 M71.7 343.3H73.5 M71.7 340.0H73.5 M71.7 336.8H73.5 M70.7 333.6H73.5 M71.7 330.4H73.5 M71.7 327.2H73.5 M71.7 323.9H73.5 M71.7 320.7H73.5 M70.7 317.5H73.5 M73.5 381.9V384.5 M82.6 381.9V383.3 M87.9 381.9V383.3 M91.7 381.9V383.3 M94.6 381.9V383.3 M97.0 381.9V383.3 M99.0 381.9V383.3 M100.8 381.9V383.3 M102.3 381.9V383.3 M103.7 381.9V384.5 M112.8 381.9V383.3 M118.1 381.9V383.3 M121.9 381.9V383.3 M124.9 381.9V383.3 M127.2 381.9V383.3 M129.3 381.9V383.3 M131.0 381.9V383.3 M132.6 381.9V383.3 M133.9 381.9V384.5 M143.0 381.9V383.3 M148.4 381.9V383.3 M152.1 381.9V383.3 M155.1 381.9V383.3 M157.5 381.9V383.3 M159.5 381.9V383.3 M161.2 381.9V383.3 M162.8 381.9V383.3 M164.2 381.9V384.5 M173.3 381.9V383.3 M178.6 381.9V383.3 M182.4 381.9V383.3 M185.3 381.9V383.3 M187.7 381.9V383.3 M189.7 381.9V383.3 M191.5 381.9V383.3 M193.0 381.9V383.3 M194.4 381.9V384.5" stroke="#222" stroke-width="0.8" fill="none"/>
<polygon points="73.8,381.9 73.8,373.6 74.9,369.7 76.1,370.9 77.0,364.3 77.9,361.9 78.8,356.9 79.6,358.9 80.5,352.4 81.4,350.7 82.2,344.2 83.1,344.5 84.0,339.2 84.9,337.5 85.8,332.7 86.6,332.2 87.5,328.7 88.4,327.1 88.9,324.9 90.1,331.1 91.0,330.3 91.9,333.8 92.8,331.2 93.6,334.2 94.4,331.2 95.3,334.2 96.2,330.4 97.1,329.9 98.5,326.2 99.7,330.8 101.1,336.3 102.3,341.4 103.7,341.0 105.0,344.3 106.3,345.5 107.6,351.0 108.9,350.7 110.2,354.3 111.5,355.0 112.8,358.6 113.9,357.4 115.1,363.2 116.2,360.6 117.2,364.4 118.5,361.2 119.8,363.0 121.1,360.4 122.4,363.5 123.6,361.8 124.7,363.9 125.9,363.1 127.1,365.8 128.2,364.8 129.4,368.3 130.6,367.0 131.7,368.3 133.1,366.3 134.4,371.5 135.7,368.5 137.0,372.6 138.3,368.7 139.6,371.9 140.9,368.8 142.2,373.0 143.5,371.7 144.8,375.5 146.2,374.4 147.5,378.8 148.6,375.7 149.8,379.5 150.9,378.2 152.1,380.2 153.2,379.3 154.4,380.6 155.6,380.2 156.7,381.1 157.9,380.4 159.1,381.0 160.3,380.8 161.4,381.4 162.6,380.9 163.8,381.5 165.0,381.2 166.1,381.6 167.2,381.3 168.2,381.6 169.3,381.2 170.4,381.6 171.5,381.3 172.6,381.4 173.7,381.3 174.7,381.5 175.8,381.3 176.9,381.6 178.0,381.3 179.1,381.5 180.1,381.3 181.2,381.6 182.3,381.3 183.4,381.6 184.5,381.4 185.5,381.6 186.6,381.3 187.7,381.7 188.8,381.4 189.9,381.6 191.0,381.5 192.0,381.6 193.1,381.5 194.2,381.7 194.2,381.9" fill="#fb0a1e"/>
<path d="M85.8 333.2V329.9M97.1 330.4V326.7M107.6 351.5V348.8M116.2 361.1V358.3" stroke="#3a0a0c" stroke-width="0.7" stroke-opacity="0.8" fill="none"/>
<polyline points="73.8,373.6 74.9,369.7 76.1,370.9 77.0,364.3 77.9,361.9 78.8,356.9 79.6,358.9 80.5,352.4 81.4,350.7 82.2,344.2 83.1,344.5 84.0,339.2 84.9,337.5 85.8,332.7 86.6,332.2 87.5,328.7 88.4,327.1 88.9,324.9 90.1,331.1 91.0,330.3 91.9,333.8 92.8,331.2 93.6,334.2 94.4,331.2 95.3,334.2 96.2,330.4 97.1,329.9 98.5,326.2 99.7,330.8 101.1,336.3 102.3,341.4 103.7,341.0 105.0,344.3 106.3,345.5 107.6,351.0 108.9,350.7 110.2,354.3 111.5,355.0 112.8,358.6 113.9,357.4 115.1,363.2 116.2,360.6 117.2,364.4 118.5,361.2 119.8,363.0 121.1,360.4 122.4,363.5 123.6,361.8 124.7,363.9 125.9,363.1 127.1,365.8 128.2,364.8 129.4,368.3 130.6,367.0 131.7,368.3 133.1,366.3 134.4,371.5 135.7,368.5 137.0,372.6 138.3,368.7 139.6,371.9 140.9,368.8 142.2,373.0 143.5,371.7 144.8,375.5 146.2,374.4 147.5,378.8 148.6,375.7 149.8,379.5 150.9,378.2 152.1,380.2 153.2,379.3 154.4,380.6 155.6,380.2 156.7,381.1 157.9,380.4 159.1,381.0 160.3,380.8 161.4,381.4 162.6,380.9 163.8,381.5 165.0,381.2 166.1,381.6 167.2,381.3 168.2,381.6 169.3,381.2 170.4,381.6 171.5,381.3 172.6,381.4 173.7,381.3 174.7,381.5 175.8,381.3 176.9,381.6 178.0,381.3 179.1,381.5 180.1,381.3 181.2,381.6 182.3,381.3 183.4,381.6 184.5,381.4 185.5,381.6 186.6,381.3 187.7,381.7 188.8,381.4 189.9,381.6 191.0,381.5 192.0,381.6 193.1,381.5 194.2,381.7" fill="none" stroke="#3a0a0c" stroke-width="1.0" stroke-linejoin="miter" stroke-opacity="0.85"/>
<path d="M73.5 317.5H194.4V381.9" stroke="#777" stroke-width="1" fill="none"/>
<path d="M73.3 317.5V381.9H194.4" stroke="#1a1a1a" stroke-width="1.3" fill="none"/>
<path d="M191.4 381.5L192.3 376.2L193.0 381.5Z" fill="#3a1010"/>
<path d="M120.7 342.8V355.1M120.7 348.8H194.4" stroke="#555" stroke-width="0.9" fill="none"/>
<text x="152.2" y="342.1" font-size="6.5" fill="#555" font-weight="normal" text-anchor="start" textLength="10.2" lengthAdjust="spacing" stroke="#555" stroke-width="0.15">M2</text>
<text x="179.22" y="327.80" font-size="11.6" font-weight="bold" fill="#111" stroke="#111" stroke-width="0.35">D</text>
<text x="188.71" y="327.80" font-size="11.6" font-weight="bold" fill="#111" stroke="#111" stroke-width="0.3" letter-spacing="0.1">i</text>
<text x="111.3" y="332.0" font-size="8.2" fill="#3a3a3a" font-weight="normal" text-anchor="start" textLength="28.2" lengthAdjust="spacing" stroke="#3a3a3a" stroke-width="0.15">16.9%</text>
<text transform="translate(67.4 381.9) rotate(-90)" font-size="6.8" fill="#555" text-anchor="middle">0</text>
<text transform="translate(67.4 365.8) rotate(-90)" font-size="6.8" fill="#555" text-anchor="middle">10</text>
<text transform="translate(67.4 349.7) rotate(-90)" font-size="6.8" fill="#555" text-anchor="middle">20</text>
<text transform="translate(67.4 333.6) rotate(-90)" font-size="6.8" fill="#555" text-anchor="middle">30</text>
<text transform="translate(67.4 317.5) rotate(-90)" font-size="6.8" fill="#555" text-anchor="middle">40</text>
<text transform="translate(59.7 354.0) rotate(-90)" font-size="6.5" fill="#555" text-anchor="middle" textLength="20" lengthAdjust="spacingAndGlyphs">Counts</text>
<text x="68.6" y="392.2" font-size="6.4" fill="#555" textLength="6.4" lengthAdjust="spacingAndGlyphs">10</text>
<text x="75.3" y="388.4" font-size="5.4" fill="#555">0</text>
<text x="98.8" y="392.2" font-size="6.4" fill="#555" textLength="6.4" lengthAdjust="spacingAndGlyphs">10</text>
<text x="105.5" y="388.4" font-size="5.4" fill="#555">1</text>
<text x="129.0" y="392.2" font-size="6.4" fill="#555" textLength="6.4" lengthAdjust="spacingAndGlyphs">10</text>
<text x="135.8" y="388.4" font-size="5.4" fill="#555">2</text>
<text x="159.3" y="392.2" font-size="6.4" fill="#555" textLength="6.4" lengthAdjust="spacingAndGlyphs">10</text>
<text x="166.0" y="388.4" font-size="5.4" fill="#555">3</text>
<text x="189.5" y="392.2" font-size="6.4" fill="#555" textLength="6.4" lengthAdjust="spacingAndGlyphs">10</text>
<text x="196.2" y="388.4" font-size="5.4" fill="#555">4</text>
<text x="84.3" y="399.4" font-size="6.5" fill="#555" font-weight="normal" text-anchor="start" textLength="94.7" lengthAdjust="spacing">a-PSR + a-rabbit IgG  FITC - Con</text>
<path d="M228.4 380.5H231.2 M229.4 377.4H231.2 M229.4 374.2H231.2 M229.4 371.1H231.2 M229.4 367.9H231.2 M228.4 364.8H231.2 M229.4 361.7H231.2 M229.4 358.5H231.2 M229.4 355.4H231.2 M229.4 352.2H231.2 M228.4 349.1H231.2 M229.4 346.0H231.2 M229.4 342.8H231.2 M229.4 339.7H231.2 M229.4 336.5H231.2 M228.4 333.4H231.2 M229.4 330.3H231.2 M229.4 327.1H231.2 M229.4 324.0H231.2 M229.4 320.8H231.2 M228.4 317.7H231.2 M231.2 380.5V383.1 M240.7 380.5V381.9 M246.2 380.5V381.9 M250.1 380.5V381.9 M253.1 380.5V381.9 M255.6 380.5V381.9 M257.7 380.5V381.9 M259.6 380.5V381.9 M261.2 380.5V381.9 M262.6 380.5V383.1 M272.1 380.5V381.9 M277.6 380.5V381.9 M281.5 380.5V381.9 M284.5 380.5V381.9 M287.0 380.5V381.9 M289.1 380.5V381.9 M291.0 380.5V381.9 M292.6 380.5V381.9 M294.0 380.5V383.1 M303.5 380.5V381.9 M309.0 380.5V381.9 M312.9 380.5V381.9 M315.9 380.5V381.9 M318.4 380.5V381.9 M320.5 380.5V381.9 M322.4 380.5V381.9 M324.0 380.5V381.9 M325.4 380.5V383.1 M334.9 380.5V381.9 M340.4 380.5V381.9 M344.3 380.5V381.9 M347.3 380.5V381.9 M349.8 380.5V381.9 M351.9 380.5V381.9 M353.8 380.5V381.9 M355.4 380.5V381.9 M356.8 380.5V383.1" stroke="#222" stroke-width="0.8" fill="none"/>
<polygon points="231.5,380.5 231.5,375.0 232.8,368.1 234.1,367.9 235.0,361.2 235.9,360.8 236.8,356.0 237.6,355.0 238.5,350.2 239.4,349.6 240.2,344.6 241.1,344.8 242.0,337.8 242.9,339.2 243.8,335.4 244.6,336.3 245.5,335.3 246.4,339.8 247.2,339.0 248.1,344.1 249.4,344.1 250.7,347.0 252.0,347.0 253.3,352.7 254.7,351.1 256.0,355.2 257.3,354.3 258.6,360.2 259.9,359.3 261.2,365.0 262.5,363.0 263.8,367.9 265.1,366.4 266.5,370.6 267.4,369.3 268.2,373.5 269.5,369.0 270.8,371.9 272.0,367.1 273.1,368.0 274.1,364.0 275.2,366.7 276.5,361.9 277.8,363.8 279.1,358.4 280.4,360.8 281.8,356.4 283.1,358.8 284.4,353.2 285.7,356.0 286.9,350.1 287.8,352.1 288.7,348.5 289.6,350.8 290.6,347.5 291.5,348.4 292.4,345.4 293.4,348.2 294.4,347.0 295.3,347.9 296.2,346.9 297.1,347.4 298.1,346.2 299.0,348.3 299.9,349.3 300.9,353.5 301.9,353.2 302.8,357.2 303.7,358.0 304.6,363.2 305.6,363.4 306.5,367.0 307.4,367.4 308.4,372.2 309.3,370.3 310.3,374.4 311.2,373.4 312.1,377.6 313.1,374.3 314.0,378.5 314.9,376.8 315.9,378.6 316.8,378.1 318.0,379.2 319.3,378.9 320.5,379.6 321.6,379.3 322.6,379.7 323.7,379.5 324.7,379.9 325.8,379.5 326.8,380.1 327.9,379.7 328.9,380.0 330.0,380.0 331.1,380.2 332.2,380.0 333.3,380.1 334.4,379.9 335.5,380.1 336.6,380.0 337.6,380.2 338.7,380.1 339.8,380.1 340.9,380.0 342.0,380.3 343.1,380.0 344.2,380.2 345.3,380.1 346.4,380.2 347.5,380.1 348.6,380.3 349.6,380.0 350.7,380.3 351.8,380.1 352.9,380.2 354.0,380.2 355.1,380.3 356.2,380.1 356.2,380.5" fill="#fb0a1e"/>
<path d="M235.0 361.7V357.9M236.8 356.5V353.9M254.7 351.6V348.2M256.0 355.7V352.8M280.4 361.3V359.1M284.4 353.7V351.6M294.4 347.5V344.0M305.6 363.9V360.2" stroke="#3a0a0c" stroke-width="0.7" stroke-opacity="0.8" fill="none"/>
<polyline points="231.5,375.0 232.8,368.1 234.1,367.9 235.0,361.2 235.9,360.8 236.8,356.0 237.6,355.0 238.5,350.2 239.4,349.6 240.2,344.6 241.1,344.8 242.0,337.8 242.9,339.2 243.8,335.4 244.6,336.3 245.5,335.3 246.4,339.8 247.2,339.0 248.1,344.1 249.4,344.1 250.7,347.0 252.0,347.0 253.3,352.7 254.7,351.1 256.0,355.2 257.3,354.3 258.6,360.2 259.9,359.3 261.2,365.0 262.5,363.0 263.8,367.9 265.1,366.4 266.5,370.6 267.4,369.3 268.2,373.5 269.5,369.0 270.8,371.9 272.0,367.1 273.1,368.0 274.1,364.0 275.2,366.7 276.5,361.9 277.8,363.8 279.1,358.4 280.4,360.8 281.8,356.4 283.1,358.8 284.4,353.2 285.7,356.0 286.9,350.1 287.8,352.1 288.7,348.5 289.6,350.8 290.6,347.5 291.5,348.4 292.4,345.4 293.4,348.2 294.4,347.0 295.3,347.9 296.2,346.9 297.1,347.4 298.1,346.2 299.0,348.3 299.9,349.3 300.9,353.5 301.9,353.2 302.8,357.2 303.7,358.0 304.6,363.2 305.6,363.4 306.5,367.0 307.4,367.4 308.4,372.2 309.3,370.3 310.3,374.4 311.2,373.4 312.1,377.6 313.1,374.3 314.0,378.5 314.9,376.8 315.9,378.6 316.8,378.1 318.0,379.2 319.3,378.9 320.5,379.6 321.6,379.3 322.6,379.7 323.7,379.5 324.7,379.9 325.8,379.5 326.8,380.1 327.9,379.7 328.9,380.0 330.0,380.0 331.1,380.2 332.2,380.0 333.3,380.1 334.4,379.9 335.5,380.1 336.6,380.0 337.6,380.2 338.7,380.1 339.8,380.1 340.9,380.0 342.0,380.3 343.1,380.0 344.2,380.2 345.3,380.1 346.4,380.2 347.5,380.1 348.6,380.3 349.6,380.0 350.7,380.3 351.8,380.1 352.9,380.2 354.0,380.2 355.1,380.3 356.2,380.1" fill="none" stroke="#3a0a0c" stroke-width="1.0" stroke-linejoin="miter" stroke-opacity="0.85"/>
<path d="M231.2 317.7H356.8V380.5" stroke="#777" stroke-width="1" fill="none"/>
<path d="M231.0 317.7V380.5H356.8" stroke="#1a1a1a" stroke-width="1.3" fill="none"/>
<path d="M272.9 367L273.5 357.8L274.1 367Z" fill="#fb0a1e" stroke="#3a0a0c" stroke-width="0.5" stroke-opacity="0.8"/>
<path d="M280.1 342.0V353.3M280.1 348.0H356.8" stroke="#555" stroke-width="0.9" fill="none"/>
<text x="312.2" y="340.6" font-size="6.5" fill="#555" font-weight="normal" text-anchor="start" textLength="10.2" lengthAdjust="spacing" stroke="#555" stroke-width="0.15">M2</text>
<text x="339.02" y="328.10" font-size="11.6" font-weight="bold" fill="#111" stroke="#111" stroke-width="0.35">D</text>
<text x="348.59" y="328.10" font-size="11.6" font-weight="bold" fill="#111" stroke="#111" stroke-width="0.3" letter-spacing="0.1">ii</text>
<text x="263.2" y="332.6" font-size="8.2" fill="#3a3a3a" font-weight="normal" text-anchor="start" textLength="29.0" lengthAdjust="spacing" stroke="#3a3a3a" stroke-width="0.15">39.5%</text>
<text transform="translate(225.6 380.5) rotate(-90)" font-size="6.8" fill="#555" text-anchor="middle">0</text>
<text transform="translate(225.6 364.8) rotate(-90)" font-size="6.8" fill="#555" text-anchor="middle">10</text>
<text transform="translate(225.6 349.1) rotate(-90)" font-size="6.8" fill="#555" text-anchor="middle">20</text>
<text transform="translate(225.6 333.4) rotate(-90)" font-size="6.8" fill="#555" text-anchor="middle">30</text>
<text transform="translate(225.6 317.7) rotate(-90)" font-size="6.8" fill="#555" text-anchor="middle">40</text>
<text transform="translate(217.6 349.8) rotate(-90)" font-size="6.5" fill="#555" text-anchor="middle" textLength="20" lengthAdjust="spacingAndGlyphs">Counts</text>
<text x="226.3" y="391.4" font-size="6.4" fill="#555" textLength="6.4" lengthAdjust="spacingAndGlyphs">10</text>
<text x="233.0" y="387.6" font-size="5.4" fill="#555">0</text>
<text x="257.7" y="391.4" font-size="6.4" fill="#555" textLength="6.4" lengthAdjust="spacingAndGlyphs">10</text>
<text x="264.4" y="387.6" font-size="5.4" fill="#555">1</text>
<text x="289.1" y="391.4" font-size="6.4" fill="#555" textLength="6.4" lengthAdjust="spacingAndGlyphs">10</text>
<text x="295.8" y="387.6" font-size="5.4" fill="#555">2</text>
<text x="320.5" y="391.4" font-size="6.4" fill="#555" textLength="6.4" lengthAdjust="spacingAndGlyphs">10</text>
<text x="327.2" y="387.6" font-size="5.4" fill="#555">3</text>
<text x="351.9" y="391.4" font-size="6.4" fill="#555" textLength="6.4" lengthAdjust="spacingAndGlyphs">10</text>
<text x="358.6" y="387.6" font-size="5.4" fill="#555">4</text>
<text x="247.8" y="398.8" font-size="6.5" fill="#555" font-weight="normal" text-anchor="start" textLength="90.6" lengthAdjust="spacing">a-PSR + a-rabbit IgG  FITC - IL-</text>
<path d="M391.8 381.2H394.6 M392.8 378.0H394.6 M392.8 374.8H394.6 M392.8 371.6H394.6 M392.8 368.5H394.6 M391.8 365.3H394.6 M392.8 362.1H394.6 M392.8 358.9H394.6 M392.8 355.7H394.6 M392.8 352.5H394.6 M391.8 349.4H394.6 M392.8 346.2H394.6 M392.8 343.0H394.6 M392.8 339.8H394.6 M392.8 336.6H394.6 M391.8 333.4H394.6 M392.8 330.2H394.6 M392.8 327.1H394.6 M392.8 323.9H394.6 M392.8 320.7H394.6 M391.8 317.5H394.6 M394.6 381.2V383.8 M403.6 381.2V382.6 M408.9 381.2V382.6 M412.7 381.2V382.6 M415.6 381.2V382.6 M417.9 381.2V382.6 M420.0 381.2V382.6 M421.7 381.2V382.6 M423.2 381.2V382.6 M424.6 381.2V383.8 M433.6 381.2V382.6 M438.9 381.2V382.6 M442.7 381.2V382.6 M445.6 381.2V382.6 M447.9 381.2V382.6 M450.0 381.2V382.6 M451.7 381.2V382.6 M453.2 381.2V382.6 M454.6 381.2V383.8 M463.6 381.2V382.6 M468.9 381.2V382.6 M472.7 381.2V382.6 M475.6 381.2V382.6 M477.9 381.2V382.6 M480.0 381.2V382.6 M481.7 381.2V382.6 M483.2 381.2V382.6 M484.6 381.2V383.8 M493.6 381.2V382.6 M498.9 381.2V382.6 M502.7 381.2V382.6 M505.6 381.2V382.6 M507.9 381.2V382.6 M510.0 381.2V382.6 M511.7 381.2V382.6 M513.2 381.2V382.6 M514.6 381.2V383.8" stroke="#222" stroke-width="0.8" fill="none"/>
<polygon points="394.9,381.2 394.9,343.7 395.5,342.5 396.1,367.0 397.0,365.1 397.9,366.3 398.8,359.7 399.6,357.1 400.8,347.9 402.2,344.7 403.6,338.3 404.5,341.5 405.4,339.1 406.2,339.8 407.1,337.3 408.1,342.7 409.2,342.0 410.1,344.6 411.0,344.4 412.3,347.6 413.6,345.2 414.9,350.0 416.2,346.7 417.5,352.0 418.8,350.6 420.1,356.4 421.5,355.2 422.8,361.4 424.1,359.0 425.4,362.5 426.7,361.5 428.0,365.5 429.3,364.4 430.6,368.9 432.0,365.5 433.3,368.6 434.6,365.8 435.9,368.3 437.2,363.2 438.5,364.5 439.8,358.9 441.1,360.3 442.4,358.0 443.8,360.5 445.1,357.8 446.5,360.6 447.8,356.9 448.7,360.1 449.7,357.9 450.6,360.6 451.5,359.6 452.5,361.0 453.4,359.4 454.3,361.7 455.3,359.5 456.2,363.1 457.1,360.6 458.1,362.0 459.0,361.3 459.9,364.9 460.9,361.2 461.8,364.6 462.7,362.7 463.7,363.8 464.6,364.2 465.5,366.9 466.5,364.5 467.4,368.7 468.3,366.8 469.3,369.1 470.2,367.4 471.1,369.7 472.1,368.9 473.0,370.8 473.9,370.6 474.9,374.5 475.8,371.7 476.7,376.6 477.7,373.6 478.6,377.7 479.5,376.4 480.5,379.4 481.4,378.0 482.7,379.3 483.9,379.1 485.2,379.7 486.4,379.5 487.5,380.1 488.7,380.1 489.9,380.6 491.0,380.4 492.1,380.6 493.3,380.4 494.4,380.7 495.5,380.6 496.6,380.9 497.8,380.6 498.9,380.9 500.0,380.8 501.1,380.9 502.2,380.8 503.3,380.9 504.4,380.8 505.5,380.9 506.6,380.8 507.8,380.9 508.9,380.8 510.0,380.9 511.1,380.8 512.2,381.0 513.3,380.8 514.4,381.0 514.4,381.2" fill="#fb0a1e"/>
<path d="M399.6 357.6V355.1M404.5 342.0V339.1M413.6 345.7V342.4M416.2 347.2V344.2M439.8 359.4V356.9M441.1 360.8V357.9M450.6 361.1V357.2M468.3 367.3V364.5M471.1 370.2V366.9" stroke="#3a0a0c" stroke-width="0.7" stroke-opacity="0.8" fill="none"/>
<polyline points="394.9,343.7 395.5,342.5 396.1,367.0 397.0,365.1 397.9,366.3 398.8,359.7 399.6,357.1 400.8,347.9 402.2,344.7 403.6,338.3 404.5,341.5 405.4,339.1 406.2,339.8 407.1,337.3 408.1,342.7 409.2,342.0 410.1,344.6 411.0,344.4 412.3,347.6 413.6,345.2 414.9,350.0 416.2,346.7 417.5,352.0 418.8,350.6 420.1,356.4 421.5,355.2 422.8,361.4 424.1,359.0 425.4,362.5 426.7,361.5 428.0,365.5 429.3,364.4 430.6,368.9 432.0,365.5 433.3,368.6 434.6,365.8 435.9,368.3 437.2,363.2 438.5,364.5 439.8,358.9 441.1,360.3 442.4,358.0 443.8,360.5 445.1,357.8 446.5,360.6 447.8,356.9 448.7,360.1 449.7,357.9 450.6,360.6 451.5,359.6 452.5,361.0 453.4,359.4 454.3,361.7 455.3,359.5 456.2,363.1 457.1,360.6 458.1,362.0 459.0,361.3 459.9,364.9 460.9,361.2 461.8,364.6 462.7,362.7 463.7,363.8 464.6,364.2 465.5,366.9 466.5,364.5 467.4,368.7 468.3,366.8 469.3,369.1 470.2,367.4 471.1,369.7 472.1,368.9 473.0,370.8 473.9,370.6 474.9,374.5 475.8,371.7 476.7,376.6 477.7,373.6 478.6,377.7 479.5,376.4 480.5,379.4 481.4,378.0 482.7,379.3 483.9,379.1 485.2,379.7 486.4,379.5 487.5,380.1 488.7,380.1 489.9,380.6 491.0,380.4 492.1,380.6 493.3,380.4 494.4,380.7 495.5,380.6 496.6,380.9 497.8,380.6 498.9,380.9 500.0,380.8 501.1,380.9 502.2,380.8 503.3,380.9 504.4,380.8 505.5,380.9 506.6,380.8 507.8,380.9 508.9,380.8 510.0,380.9 511.1,380.8 512.2,381.0 513.3,380.8 514.4,381.0" fill="none" stroke="#3a0a0c" stroke-width="1.0" stroke-linejoin="miter" stroke-opacity="0.85"/>
<path d="M394.6 317.5H514.6V381.2" stroke="#777" stroke-width="1" fill="none"/>
<path d="M394.4 317.5V381.2H514.6" stroke="#1a1a1a" stroke-width="1.3" fill="none"/>
<path d="M442.1 342.0V354.6M442.1 348.2H514.6" stroke="#555" stroke-width="0.9" fill="none"/>
<text x="467.9" y="340.6" font-size="6.5" fill="#555" font-weight="normal" text-anchor="start" textLength="10.2" lengthAdjust="spacing" stroke="#555" stroke-width="0.15">M2</text>
<text x="493.02" y="328.10" font-size="11.6" font-weight="bold" fill="#111" stroke="#111" stroke-width="0.35">D</text>
<text x="502.67" y="328.10" font-size="11.6" font-weight="bold" fill="#111" stroke="#111" stroke-width="0.3" letter-spacing="0.1">iii</text>
<text x="420.4" y="332.8" font-size="8.2" fill="#3a3a3a" font-weight="normal" text-anchor="start" textLength="28.8" lengthAdjust="spacing" stroke="#3a3a3a" stroke-width="0.15">32.3%</text>
<text transform="translate(388.6 381.2) rotate(-90)" font-size="6.8" fill="#555" text-anchor="middle">0</text>
<text transform="translate(388.6 365.3) rotate(-90)" font-size="6.8" fill="#555" text-anchor="middle">10</text>
<text transform="translate(388.6 349.4) rotate(-90)" font-size="6.8" fill="#555" text-anchor="middle">20</text>
<text transform="translate(388.6 333.4) rotate(-90)" font-size="6.8" fill="#555" text-anchor="middle">30</text>
<text transform="translate(388.6 317.5) rotate(-90)" font-size="6.8" fill="#555" text-anchor="middle">40</text>
<text transform="translate(380.8 350.2) rotate(-90)" font-size="6.5" fill="#555" text-anchor="middle" textLength="20" lengthAdjust="spacingAndGlyphs">Counts</text>
<text x="389.7" y="392.2" font-size="6.4" fill="#555" textLength="6.4" lengthAdjust="spacingAndGlyphs">10</text>
<text x="396.4" y="388.4" font-size="5.4" fill="#555">0</text>
<text x="419.7" y="392.2" font-size="6.4" fill="#555" textLength="6.4" lengthAdjust="spacingAndGlyphs">10</text>
<text x="426.4" y="388.4" font-size="5.4" fill="#555">1</text>
<text x="449.7" y="392.2" font-size="6.4" fill="#555" textLength="6.4" lengthAdjust="spacingAndGlyphs">10</text>
<text x="456.4" y="388.4" font-size="5.4" fill="#555">2</text>
<text x="479.7" y="392.2" font-size="6.4" fill="#555" textLength="6.4" lengthAdjust="spacingAndGlyphs">10</text>
<text x="486.4" y="388.4" font-size="5.4" fill="#555">3</text>
<text x="509.7" y="392.2" font-size="6.4" fill="#555" textLength="6.4" lengthAdjust="spacingAndGlyphs">10</text>
<text x="516.4" y="388.4" font-size="5.4" fill="#555">4</text>
<text x="405.1" y="399.4" font-size="6.5" fill="#555" font-weight="normal" text-anchor="start" textLength="93.9" lengthAdjust="spacing">a-PSR + a-rabbit IgG  FITC - TNF</text>
</svg>
</body></html>
